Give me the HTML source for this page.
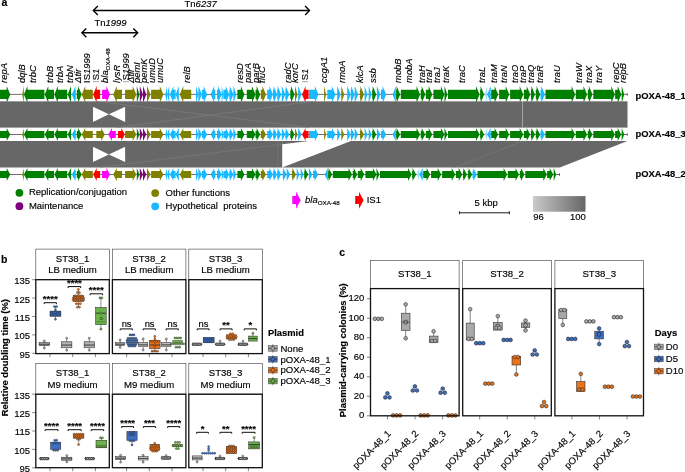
<!DOCTYPE html><html><head><meta charset="utf-8"><style>html,body{margin:0;padding:0;background:#fff;}svg{display:block;will-change:transform;}text{font-family:"Liberation Sans",sans-serif;stroke:#000;stroke-width:0.15px;}</style></head><body>
<svg width="685" height="472" viewBox="0 0 685 472">
<rect width="685" height="472" fill="#fff"/>
<text x="1.5" y="6" font-size="10.5" font-weight="bold">a</text>
<line x1="93.4" y1="10.5" x2="309.5" y2="10.5" stroke="#000" stroke-width="1.4"/>
<polyline points="97.8,6.1 93.4,10.5 97.8,14.9" fill="none" stroke="#000" stroke-width="1.4" stroke-linejoin="miter"/>
<polyline points="305.1,6.1 309.5,10.5 305.1,14.9" fill="none" stroke="#000" stroke-width="1.4" stroke-linejoin="miter"/>
<line x1="81.9" y1="32.8" x2="137.7" y2="32.8" stroke="#000" stroke-width="1.4"/>
<polyline points="86.3,28.4 81.9,32.8 86.3,37.2" fill="none" stroke="#000" stroke-width="1.4" stroke-linejoin="miter"/>
<polyline points="133.3,28.4 137.7,32.8 133.3,37.2" fill="none" stroke="#000" stroke-width="1.4" stroke-linejoin="miter"/>
<text x="184.5" y="7.4" font-size="9.5">Tn<tspan font-style="italic">6237</tspan></text>
<text x="94.4" y="26.2" font-size="9.5">Tn<tspan font-style="italic">1999</tspan></text>
<text transform="translate(6.8,82.9) rotate(-90)" font-size="9.4" font-style="italic">repA</text>
<text transform="translate(25.2,82.9) rotate(-90)" font-size="9.4" font-style="italic">dqlB</text>
<text transform="translate(36.1,82.9) rotate(-90)" font-size="9.4" font-style="italic">trbC</text>
<text transform="translate(53.2,82.9) rotate(-90)" font-size="9.4" font-style="italic">trbB</text>
<text transform="translate(62.8,82.9) rotate(-90)" font-size="9.4" font-style="italic">trbA</text>
<text transform="translate(72.9,82.9) rotate(-90)" font-size="9.4" font-style="italic">trbN</text>
<text transform="translate(80.8,82.9) rotate(-90)" font-size="9.4" font-style="italic">Δtir</text>
<text transform="translate(89.6,82.9) rotate(-90)" font-size="9.4">IS<tspan font-style="italic">1999</tspan></text>
<text transform="translate(99.3,82.9) rotate(-90)" font-size="9.4"><tspan fill="#9a9a9a" stroke="none">I</tspan>S<tspan font-style="italic">1</tspan></text>
<text transform="translate(107.8,82.9) rotate(-90)" font-size="9.4" font-style="italic">bla<tspan font-size="6.2" font-style="normal" dy="2.2">OXA-48</tspan></text>
<text transform="translate(119.5,82.9) rotate(-90)" font-size="9.4" font-style="italic">lysR</text>
<text transform="translate(128.5,82.9) rotate(-90)" font-size="9.4"><tspan fill="#9a9a9a" stroke="none">I</tspan>S<tspan font-style="italic">1999</tspan></text>
<text transform="translate(133.7,82.9) rotate(-90)" font-size="9.4" font-style="italic">Δtir</text>
<text transform="translate(140.1,82.9) rotate(-90)" font-size="9.4" font-style="italic">pemI</text>
<text transform="translate(146.9,82.9) rotate(-90)" font-size="9.4" font-style="italic">pemK</text>
<text transform="translate(155.4,82.9) rotate(-90)" font-size="9.4" font-style="italic">umuD</text>
<text transform="translate(162.8,82.9) rotate(-90)" font-size="9.4" font-style="italic">umuC</text>
<text transform="translate(190.2,82.9) rotate(-90)" font-size="9.4" font-style="italic">relB</text>
<text transform="translate(243.4,82.9) rotate(-90)" font-size="9.4" font-style="italic">resD</text>
<text transform="translate(251.1,82.9) rotate(-90)" font-size="9.4" font-style="italic">parA</text>
<text transform="translate(259.2,82.9) rotate(-90)" font-size="9.4" font-style="italic">parB</text>
<text transform="translate(265.4,82.9) rotate(-90)" font-size="9.4" font-style="italic">fluC</text>
<text transform="translate(291.2,82.9) rotate(-90)" font-size="9.4" font-style="italic">radC</text>
<text transform="translate(297.9,82.9) rotate(-90)" font-size="9.4" font-style="italic">korC</text>
<text transform="translate(307.6,82.9) rotate(-90)" font-size="9.4"><tspan fill="#9a9a9a" stroke="none">I</tspan>S<tspan font-style="italic">1</tspan></text>
<text transform="translate(327,82.9) rotate(-90)" font-size="9.4" font-style="italic">ccgA1</text>
<text transform="translate(344.9,82.9) rotate(-90)" font-size="9.4" font-style="italic">rmoA</text>
<text transform="translate(363.3,82.9) rotate(-90)" font-size="9.4" font-style="italic">klcA</text>
<text transform="translate(375.5,82.9) rotate(-90)" font-size="9.4" font-style="italic">ssb</text>
<text transform="translate(401.1,82.9) rotate(-90)" font-size="9.4" font-style="italic">mobB</text>
<text transform="translate(411.8,82.9) rotate(-90)" font-size="9.4" font-style="italic">mobA</text>
<text transform="translate(424.8,82.9) rotate(-90)" font-size="9.4" font-style="italic">traH</text>
<text transform="translate(432,82.9) rotate(-90)" font-size="9.4" font-style="italic">traI</text>
<text transform="translate(439.6,82.9) rotate(-90)" font-size="9.4" font-style="italic">traJ</text>
<text transform="translate(448.8,82.9) rotate(-90)" font-size="9.4" font-style="italic">traK</text>
<text transform="translate(464.7,82.9) rotate(-90)" font-size="9.4" font-style="italic">traC</text>
<text transform="translate(485.3,82.9) rotate(-90)" font-size="9.4" font-style="italic">traL</text>
<text transform="translate(497.1,82.9) rotate(-90)" font-size="9.4" font-style="italic">traM</text>
<text transform="translate(506.6,82.9) rotate(-90)" font-size="9.4" font-style="italic">traN</text>
<text transform="translate(518,82.9) rotate(-90)" font-size="9.4" font-style="italic">traO</text>
<text transform="translate(526,82.9) rotate(-90)" font-size="9.4" font-style="italic">traP</text>
<text transform="translate(534.2,82.9) rotate(-90)" font-size="9.4" font-style="italic">traQ</text>
<text transform="translate(543.1,82.9) rotate(-90)" font-size="9.4" font-style="italic">traR</text>
<text transform="translate(559.9,82.9) rotate(-90)" font-size="9.4" font-style="italic">traU</text>
<text transform="translate(581.8,82.9) rotate(-90)" font-size="9.4" font-style="italic">traW</text>
<text transform="translate(592,82.9) rotate(-90)" font-size="9.4" font-style="italic">traX</text>
<text transform="translate(601.5,82.9) rotate(-90)" font-size="9.4" font-style="italic">traY</text>
<text transform="translate(619,82.9) rotate(-90)" font-size="9.4" font-style="italic">repC</text>
<text transform="translate(626.4,82.9) rotate(-90)" font-size="9.4" font-style="italic">repB</text>
<line x1="0" y1="94.4" x2="627.5" y2="94.4" stroke="#333" stroke-width="0.7"/>
<line x1="627.2" y1="92.9" x2="627.2" y2="95.9" stroke="#333" stroke-width="0.6"/>
<polygon points="-5,89.8 6.7,89.8 6.7,85.9 10.3,94.4 6.7,102.9 6.7,99 -5,99" fill="#008000"/>
<polygon points="23.9,85.9 22.2,94.4 23.9,102.9" fill="#808000"/>
<polygon points="44.4,89.8 27.5,89.8 27.5,85.9 23.9,94.4 27.5,102.9 27.5,99 44.4,99" fill="#008000"/>
<polygon points="54,89.8 48.3,89.8 48.3,85.9 44.7,94.4 48.3,102.9 48.3,99 54,99" fill="#008000"/>
<polygon points="67.2,89.8 57.9,89.8 57.9,85.9 54.3,94.4 57.9,102.9 57.9,99 67.2,99" fill="#008000"/>
<polygon points="71,85.9 67.7,94.4 71,102.9" fill="#008000"/>
<polygon points="75.8,89.8 75.4,89.8 75.4,85.9 71.8,94.4 75.4,102.9 75.4,99 75.8,99" fill="#19b9ff"/>
<polygon points="76.8,89.8 78.1,89.8 78.1,85.9 81.7,94.4 78.1,102.9 78.1,99 76.8,99" fill="#008000"/>
<polygon points="92.8,89.8 85.3,89.8 85.3,85.9 81.7,94.4 85.3,102.9 85.3,99 92.8,99" fill="#808000"/>
<polygon points="100.1,89.8 96.7,89.8 96.7,85.9 93.1,94.4 96.7,102.9 96.7,99 100.1,99" fill="#ff0000"/>
<polygon points="102.1,89.8 106.4,89.8 106.4,85.9 110,94.4 106.4,102.9 106.4,99 102.1,99" fill="#ff00ff"/>
<polygon points="122,89.8 116.8,89.8 116.8,85.9 113.2,94.4 116.8,102.9 116.8,99 122,99" fill="#808000"/>
<polygon points="125.1,89.8 132.7,89.8 132.7,85.9 136.3,94.4 132.7,102.9 132.7,99 125.1,99" fill="#808000"/>
<polygon points="136.8,85.9 139.5,94.4 136.8,102.9" fill="#008000"/>
<polygon points="139.8,85.9 143,94.4 139.8,102.9" fill="#800080"/>
<polygon points="143,85.9 146.3,94.4 143,102.9" fill="#800080"/>
<polygon points="147,85.9 150.5,94.4 147,102.9" fill="#808000"/>
<polygon points="151.1,89.8 159.8,89.8 159.8,85.9 163.4,94.4 159.8,102.9 159.8,99 151.1,99" fill="#808000"/>
<polygon points="167,85.9 165.3,94.4 167,102.9" fill="#19b9ff"/>
<polygon points="169.3,85.9 167,94.4 169.3,102.9" fill="#19b9ff"/>
<polygon points="175.6,89.8 173.4,89.8 173.4,85.9 169.8,94.4 173.4,102.9 173.4,99 175.6,99" fill="#19b9ff"/>
<polygon points="178.8,85.9 175.6,94.4 178.8,102.9" fill="#19b9ff"/>
<polygon points="191.2,89.8 183.3,89.8 183.3,85.9 179.7,94.4 183.3,102.9 183.3,99 191.2,99" fill="#808000"/>
<polygon points="196,85.9 198.4,94.4 196,102.9" fill="#19b9ff"/>
<polygon points="198.4,85.9 201.9,94.4 198.4,102.9" fill="#19b9ff"/>
<polygon points="201.9,89.8 203.6,89.8 203.6,85.9 207.2,94.4 203.6,102.9 203.6,99 201.9,99" fill="#19b9ff"/>
<polygon points="215.3,89.8 214.2,89.8 214.2,85.9 210.6,94.4 214.2,102.9 214.2,99 215.3,99" fill="#19b9ff"/>
<polygon points="217,89.8 218.1,89.8 218.1,85.9 221.7,94.4 218.1,102.9 218.1,99 217,99" fill="#19b9ff"/>
<polygon points="221.7,85.9 223.4,94.4 221.7,102.9" fill="#19b9ff"/>
<polygon points="223.4,89.8 225.7,89.8 225.7,85.9 229.3,94.4 225.7,102.9 225.7,99 223.4,99" fill="#19b9ff"/>
<polygon points="229.3,89.8 229.8,89.8 229.8,85.9 233.4,94.4 229.8,102.9 229.8,99 229.3,99" fill="#19b9ff"/>
<polygon points="233.4,85.9 236.3,94.4 233.4,102.9" fill="#19b9ff"/>
<polygon points="237.4,89.8 240.9,89.8 240.9,85.9 244.5,94.4 240.9,102.9 240.9,99 237.4,99" fill="#008000"/>
<polygon points="246.8,89.8 251.9,89.8 251.9,85.9 255.5,94.4 251.9,102.9 251.9,99 246.8,99" fill="#008000"/>
<polygon points="255.5,89.8 256.6,89.8 256.6,85.9 260.2,94.4 256.6,102.9 256.6,99 255.5,99" fill="#008000"/>
<polygon points="260.8,89.8 262.4,89.8 262.4,85.9 266,94.4 262.4,102.9 262.4,99 260.8,99" fill="#808000"/>
<polygon points="267.2,89.8 269.4,89.8 269.4,85.9 273,94.4 269.4,102.9 269.4,99 267.2,99" fill="#19b9ff"/>
<polygon points="273,89.8 273.6,89.8 273.6,85.9 277.2,94.4 273.6,102.9 273.6,99 273,99" fill="#19b9ff"/>
<polygon points="277.2,89.8 277.6,89.8 277.6,85.9 281.2,94.4 277.6,102.9 277.6,99 277.2,99" fill="#19b9ff"/>
<polygon points="281.8,85.9 285.3,94.4 281.8,102.9" fill="#19b9ff"/>
<polygon points="285.3,89.8 285.7,89.8 285.7,85.9 289.3,94.4 285.7,102.9 285.7,99 285.3,99" fill="#19b9ff"/>
<polygon points="290.3,89.8 291,89.8 291,85.9 294.6,94.4 291,102.9 291,99 290.3,99" fill="#008000"/>
<polygon points="295,85.9 297.5,94.4 295,102.9" fill="#808000"/>
<polygon points="298.1,85.9 301.6,94.4 298.1,102.9" fill="#19b9ff"/>
<polygon points="308.6,89.8 305.6,89.8 305.6,85.9 302,94.4 305.6,102.9 305.6,99 308.6,99" fill="#ff0000"/>
<polygon points="309,89.8 314.9,89.8 314.9,85.9 318.5,94.4 314.9,102.9 314.9,99 309,99" fill="#19b9ff"/>
<polygon points="324.1,85.9 326.1,94.4 324.1,102.9" fill="#808000"/>
<polygon points="327.3,89.8 331.9,89.8 331.9,85.9 335.5,94.4 331.9,102.9 331.9,99 327.3,99" fill="#19b9ff"/>
<polygon points="337.2,85.9 340.7,94.4 337.2,102.9" fill="#19b9ff"/>
<polygon points="341.3,85.9 344.2,94.4 341.3,102.9" fill="#808000"/>
<polygon points="347.2,85.9 350.7,94.4 347.2,102.9" fill="#19b9ff"/>
<polygon points="350.7,89.8 351.1,89.8 351.1,85.9 354.7,94.4 351.1,102.9 351.1,99 350.7,99" fill="#19b9ff"/>
<polygon points="354.7,85.9 358.2,94.4 354.7,102.9" fill="#19b9ff"/>
<polygon points="359.9,89.8 360.4,89.8 360.4,85.9 364,94.4 360.4,102.9 360.4,99 359.9,99" fill="#808000"/>
<polygon points="364.6,85.9 367.5,94.4 364.6,102.9" fill="#19b9ff"/>
<polygon points="368.7,85.9 371.6,94.4 368.7,102.9" fill="#19b9ff"/>
<polygon points="372.2,89.8 372.7,89.8 372.7,85.9 376.3,94.4 372.7,102.9 372.7,99 372.2,99" fill="#008000"/>
<polygon points="376.9,85.9 380.4,94.4 376.9,102.9" fill="#19b9ff"/>
<polygon points="381,89.8 382.6,89.8 382.6,85.9 386.2,94.4 382.6,102.9 382.6,99 381,99" fill="#19b9ff"/>
<polygon points="395.8,85.9 392.6,94.4 395.8,102.9" fill="#19b9ff"/>
<polygon points="396.1,89.8 396.6,89.8 396.6,85.9 400.2,94.4 396.6,102.9 396.6,99 396.1,99" fill="#008000"/>
<polygon points="400.8,89.8 416.5,89.8 416.5,85.9 420.1,94.4 416.5,102.9 416.5,99 400.8,99" fill="#008000"/>
<polygon points="420.7,89.8 421.7,89.8 421.7,85.9 425.3,94.4 421.7,102.9 421.7,99 420.7,99" fill="#008000"/>
<polygon points="425.8,89.8 428.7,89.8 428.7,85.9 432.3,94.4 428.7,102.9 428.7,99 425.8,99" fill="#008000"/>
<polygon points="433.4,89.8 440.9,89.8 440.9,85.9 444.5,94.4 440.9,102.9 440.9,99 433.4,99" fill="#008000"/>
<polygon points="444.5,85.9 447.4,94.4 444.5,102.9" fill="#008000"/>
<polygon points="448,89.8 476,89.8 476,85.9 479.6,94.4 476,102.9 476,99 448,99" fill="#008000"/>
<polygon points="480.1,89.8 480.6,89.8 480.6,85.9 484.2,94.4 480.6,102.9 480.6,99 480.1,99" fill="#008000"/>
<polygon points="487.2,85.9 484.8,94.4 487.2,102.9" fill="#9fdcf5"/>
<polygon points="490.7,85.9 487.2,94.4 490.7,102.9" fill="#19b9ff"/>
<polygon points="491.2,89.8 494.6,89.8 494.6,85.9 498.2,94.4 494.6,102.9 494.6,99 491.2,99" fill="#008000"/>
<polygon points="499.1,89.8 505.7,89.8 505.7,85.9 509.3,94.4 505.7,102.9 505.7,99 499.1,99" fill="#008000"/>
<polygon points="510.1,89.8 519.7,89.8 519.7,85.9 523.3,94.4 519.7,102.9 519.7,99 510.1,99" fill="#008000"/>
<polygon points="523.9,89.8 526.7,89.8 526.7,85.9 530.3,94.4 526.7,102.9 526.7,99 523.9,99" fill="#008000"/>
<polygon points="530.9,89.8 531.4,89.8 531.4,85.9 535,94.4 531.4,102.9 531.4,99 530.9,99" fill="#008000"/>
<polygon points="535.8,89.8 536.6,89.8 536.6,85.9 540.2,94.4 536.6,102.9 536.6,99 535.8,99" fill="#008000"/>
<polygon points="540.5,89.8 541.3,89.8 541.3,85.9 544.9,94.4 541.3,102.9 541.3,99 540.5,99" fill="#19b9ff"/>
<polygon points="545.5,89.8 571.6,89.8 571.6,85.9 575.2,94.4 571.6,102.9 571.6,99 545.5,99" fill="#008000"/>
<polygon points="575.8,89.8 583.5,89.8 583.5,85.9 587.1,94.4 583.5,102.9 583.5,99 575.8,99" fill="#008000"/>
<polygon points="587.8,89.8 588.9,89.8 588.9,85.9 592.5,94.4 588.9,102.9 588.9,99 587.8,99" fill="#008000"/>
<polygon points="593.3,89.8 611.3,89.8 611.3,85.9 614.9,94.4 611.3,102.9 611.3,99 593.3,99" fill="#008000"/>
<polygon points="615.1,89.8 617.7,89.8 617.7,85.9 621.3,94.4 617.7,102.9 617.7,99 615.1,99" fill="#008000"/>
<polygon points="621.7,85.9 624.2,94.4 621.7,102.9" fill="#008000"/>
<line x1="0" y1="134.5" x2="627.5" y2="134.5" stroke="#333" stroke-width="0.7"/>
<line x1="627.2" y1="133" x2="627.2" y2="136" stroke="#333" stroke-width="0.6"/>
<polygon points="-5,130.9 6.7,130.9 6.7,127.9 10.3,134.5 6.7,141.1 6.7,138.1 -5,138.1" fill="#008000"/>
<polygon points="23.9,127.9 22.2,134.5 23.9,141.1" fill="#808000"/>
<polygon points="44.4,130.9 27.5,130.9 27.5,127.9 23.9,134.5 27.5,141.1 27.5,138.1 44.4,138.1" fill="#008000"/>
<polygon points="54,130.9 48.3,130.9 48.3,127.9 44.7,134.5 48.3,141.1 48.3,138.1 54,138.1" fill="#008000"/>
<polygon points="67.2,130.9 57.9,130.9 57.9,127.9 54.3,134.5 57.9,141.1 57.9,138.1 67.2,138.1" fill="#008000"/>
<polygon points="71,127.9 67.7,134.5 71,141.1" fill="#008000"/>
<polygon points="75.8,130.9 75.4,130.9 75.4,127.9 71.8,134.5 75.4,141.1 75.4,138.1 75.8,138.1" fill="#19b9ff"/>
<polygon points="76.8,130.9 78.1,130.9 78.1,127.9 81.7,134.5 78.1,141.1 78.1,138.1 76.8,138.1" fill="#008000"/>
<polygon points="125.1,130.9 132.7,130.9 132.7,127.9 136.3,134.5 132.7,141.1 132.7,138.1 125.1,138.1" fill="#808000"/>
<polygon points="136.8,127.9 139.5,134.5 136.8,141.1" fill="#008000"/>
<polygon points="139.8,127.9 143,134.5 139.8,141.1" fill="#800080"/>
<polygon points="143,127.9 146.3,134.5 143,141.1" fill="#800080"/>
<polygon points="147,127.9 150.5,134.5 147,141.1" fill="#808000"/>
<polygon points="151.1,130.9 159.8,130.9 159.8,127.9 163.4,134.5 159.8,141.1 159.8,138.1 151.1,138.1" fill="#808000"/>
<polygon points="167,127.9 165.3,134.5 167,141.1" fill="#19b9ff"/>
<polygon points="169.3,127.9 167,134.5 169.3,141.1" fill="#19b9ff"/>
<polygon points="175.6,130.9 173.4,130.9 173.4,127.9 169.8,134.5 173.4,141.1 173.4,138.1 175.6,138.1" fill="#19b9ff"/>
<polygon points="178.8,127.9 175.6,134.5 178.8,141.1" fill="#19b9ff"/>
<polygon points="191.2,130.9 183.3,130.9 183.3,127.9 179.7,134.5 183.3,141.1 183.3,138.1 191.2,138.1" fill="#808000"/>
<polygon points="196,127.9 198.4,134.5 196,141.1" fill="#19b9ff"/>
<polygon points="198.4,127.9 201.9,134.5 198.4,141.1" fill="#19b9ff"/>
<polygon points="201.9,130.9 203.6,130.9 203.6,127.9 207.2,134.5 203.6,141.1 203.6,138.1 201.9,138.1" fill="#19b9ff"/>
<polygon points="215.3,130.9 214.2,130.9 214.2,127.9 210.6,134.5 214.2,141.1 214.2,138.1 215.3,138.1" fill="#19b9ff"/>
<polygon points="217,130.9 218.1,130.9 218.1,127.9 221.7,134.5 218.1,141.1 218.1,138.1 217,138.1" fill="#19b9ff"/>
<polygon points="221.7,127.9 223.4,134.5 221.7,141.1" fill="#19b9ff"/>
<polygon points="223.4,130.9 225.7,130.9 225.7,127.9 229.3,134.5 225.7,141.1 225.7,138.1 223.4,138.1" fill="#19b9ff"/>
<polygon points="229.3,130.9 229.8,130.9 229.8,127.9 233.4,134.5 229.8,141.1 229.8,138.1 229.3,138.1" fill="#19b9ff"/>
<polygon points="233.4,127.9 236.3,134.5 233.4,141.1" fill="#19b9ff"/>
<polygon points="237.4,130.9 240.9,130.9 240.9,127.9 244.5,134.5 240.9,141.1 240.9,138.1 237.4,138.1" fill="#008000"/>
<polygon points="246.8,130.9 251.9,130.9 251.9,127.9 255.5,134.5 251.9,141.1 251.9,138.1 246.8,138.1" fill="#008000"/>
<polygon points="255.5,130.9 256.6,130.9 256.6,127.9 260.2,134.5 256.6,141.1 256.6,138.1 255.5,138.1" fill="#008000"/>
<polygon points="260.8,130.9 262.4,130.9 262.4,127.9 266,134.5 262.4,141.1 262.4,138.1 260.8,138.1" fill="#808000"/>
<polygon points="267.2,130.9 269.4,130.9 269.4,127.9 273,134.5 269.4,141.1 269.4,138.1 267.2,138.1" fill="#19b9ff"/>
<polygon points="273,130.9 273.6,130.9 273.6,127.9 277.2,134.5 273.6,141.1 273.6,138.1 273,138.1" fill="#19b9ff"/>
<polygon points="277.2,130.9 277.6,130.9 277.6,127.9 281.2,134.5 277.6,141.1 277.6,138.1 277.2,138.1" fill="#19b9ff"/>
<polygon points="281.8,127.9 285.3,134.5 281.8,141.1" fill="#19b9ff"/>
<polygon points="285.3,130.9 285.7,130.9 285.7,127.9 289.3,134.5 285.7,141.1 285.7,138.1 285.3,138.1" fill="#19b9ff"/>
<polygon points="290.3,130.9 291,130.9 291,127.9 294.6,134.5 291,141.1 291,138.1 290.3,138.1" fill="#008000"/>
<polygon points="295,127.9 297.5,134.5 295,141.1" fill="#808000"/>
<polygon points="298.1,127.9 301.6,134.5 298.1,141.1" fill="#19b9ff"/>
<polygon points="308.6,130.9 305.6,130.9 305.6,127.9 302,134.5 305.6,141.1 305.6,138.1 308.6,138.1" fill="#ff0000"/>
<polygon points="309,130.9 314.9,130.9 314.9,127.9 318.5,134.5 314.9,141.1 314.9,138.1 309,138.1" fill="#19b9ff"/>
<polygon points="324.1,127.9 326.1,134.5 324.1,141.1" fill="#808000"/>
<polygon points="327.3,130.9 331.9,130.9 331.9,127.9 335.5,134.5 331.9,141.1 331.9,138.1 327.3,138.1" fill="#19b9ff"/>
<polygon points="337.2,127.9 340.7,134.5 337.2,141.1" fill="#19b9ff"/>
<polygon points="341.3,127.9 344.2,134.5 341.3,141.1" fill="#808000"/>
<polygon points="347.2,127.9 350.7,134.5 347.2,141.1" fill="#19b9ff"/>
<polygon points="350.7,130.9 351.1,130.9 351.1,127.9 354.7,134.5 351.1,141.1 351.1,138.1 350.7,138.1" fill="#19b9ff"/>
<polygon points="354.7,127.9 358.2,134.5 354.7,141.1" fill="#19b9ff"/>
<polygon points="359.9,130.9 360.4,130.9 360.4,127.9 364,134.5 360.4,141.1 360.4,138.1 359.9,138.1" fill="#808000"/>
<polygon points="364.6,127.9 367.5,134.5 364.6,141.1" fill="#19b9ff"/>
<polygon points="368.7,127.9 371.6,134.5 368.7,141.1" fill="#19b9ff"/>
<polygon points="372.2,130.9 372.7,130.9 372.7,127.9 376.3,134.5 372.7,141.1 372.7,138.1 372.2,138.1" fill="#008000"/>
<polygon points="376.9,127.9 380.4,134.5 376.9,141.1" fill="#19b9ff"/>
<polygon points="381,130.9 382.6,130.9 382.6,127.9 386.2,134.5 382.6,141.1 382.6,138.1 381,138.1" fill="#19b9ff"/>
<polygon points="395.8,127.9 392.6,134.5 395.8,141.1" fill="#19b9ff"/>
<polygon points="396.1,130.9 396.6,130.9 396.6,127.9 400.2,134.5 396.6,141.1 396.6,138.1 396.1,138.1" fill="#008000"/>
<polygon points="400.8,130.9 416.5,130.9 416.5,127.9 420.1,134.5 416.5,141.1 416.5,138.1 400.8,138.1" fill="#008000"/>
<polygon points="420.7,130.9 421.7,130.9 421.7,127.9 425.3,134.5 421.7,141.1 421.7,138.1 420.7,138.1" fill="#008000"/>
<polygon points="425.8,130.9 428.7,130.9 428.7,127.9 432.3,134.5 428.7,141.1 428.7,138.1 425.8,138.1" fill="#008000"/>
<polygon points="433.4,130.9 440.9,130.9 440.9,127.9 444.5,134.5 440.9,141.1 440.9,138.1 433.4,138.1" fill="#008000"/>
<polygon points="444.5,127.9 447.4,134.5 444.5,141.1" fill="#008000"/>
<polygon points="448,130.9 476,130.9 476,127.9 479.6,134.5 476,141.1 476,138.1 448,138.1" fill="#008000"/>
<polygon points="480.1,130.9 480.6,130.9 480.6,127.9 484.2,134.5 480.6,141.1 480.6,138.1 480.1,138.1" fill="#008000"/>
<polygon points="487.2,127.9 484.8,134.5 487.2,141.1" fill="#9fdcf5"/>
<polygon points="490.7,127.9 487.2,134.5 490.7,141.1" fill="#19b9ff"/>
<polygon points="491.2,130.9 494.6,130.9 494.6,127.9 498.2,134.5 494.6,141.1 494.6,138.1 491.2,138.1" fill="#008000"/>
<polygon points="499.1,130.9 505.7,130.9 505.7,127.9 509.3,134.5 505.7,141.1 505.7,138.1 499.1,138.1" fill="#008000"/>
<polygon points="510.1,130.9 519.7,130.9 519.7,127.9 523.3,134.5 519.7,141.1 519.7,138.1 510.1,138.1" fill="#008000"/>
<polygon points="523.9,130.9 526.7,130.9 526.7,127.9 530.3,134.5 526.7,141.1 526.7,138.1 523.9,138.1" fill="#008000"/>
<polygon points="530.9,130.9 531.4,130.9 531.4,127.9 535,134.5 531.4,141.1 531.4,138.1 530.9,138.1" fill="#008000"/>
<polygon points="535.8,130.9 536.6,130.9 536.6,127.9 540.2,134.5 536.6,141.1 536.6,138.1 535.8,138.1" fill="#008000"/>
<polygon points="540.5,130.9 541.3,130.9 541.3,127.9 544.9,134.5 541.3,141.1 541.3,138.1 540.5,138.1" fill="#19b9ff"/>
<polygon points="545.5,130.9 571.6,130.9 571.6,127.9 575.2,134.5 571.6,141.1 571.6,138.1 545.5,138.1" fill="#008000"/>
<polygon points="575.8,130.9 583.5,130.9 583.5,127.9 587.1,134.5 583.5,141.1 583.5,138.1 575.8,138.1" fill="#008000"/>
<polygon points="587.8,130.9 588.9,130.9 588.9,127.9 592.5,134.5 588.9,141.1 588.9,138.1 587.8,138.1" fill="#008000"/>
<polygon points="593.3,130.9 611.3,130.9 611.3,127.9 614.9,134.5 611.3,141.1 611.3,138.1 593.3,138.1" fill="#008000"/>
<polygon points="615.1,130.9 617.7,130.9 617.7,127.9 621.3,134.5 617.7,141.1 617.7,138.1 615.1,138.1" fill="#008000"/>
<polygon points="621.7,127.9 624.2,134.5 621.7,141.1" fill="#008000"/>
<polygon points="92.8,130.9 85.3,130.9 85.3,127.9 81.7,134.5 85.3,141.1 85.3,138.1 92.8,138.1" fill="#808000"/>
<polygon points="96.3,130.9 101.2,130.9 101.2,127.9 104.8,134.5 101.2,141.1 101.2,138.1 96.3,138.1" fill="#808000"/>
<polygon points="115.8,130.9 111.9,130.9 111.9,127.9 108.3,134.5 111.9,141.1 111.9,138.1 115.8,138.1" fill="#ff00ff"/>
<polygon points="117.9,130.9 121.3,130.9 121.3,127.9 124.9,134.5 121.3,141.1 121.3,138.1 117.9,138.1" fill="#ff0000"/>
<line x1="0" y1="174.5" x2="559.8" y2="174.5" stroke="#333" stroke-width="0.7"/>
<line x1="559.5" y1="173" x2="559.5" y2="176" stroke="#333" stroke-width="0.6"/>
<polygon points="-5,170.9 6.7,170.9 6.7,167.9 10.3,174.5 6.7,181.1 6.7,178.1 -5,178.1" fill="#008000"/>
<polygon points="23.9,167.9 22.2,174.5 23.9,181.1" fill="#808000"/>
<polygon points="44.4,170.9 27.5,170.9 27.5,167.9 23.9,174.5 27.5,181.1 27.5,178.1 44.4,178.1" fill="#008000"/>
<polygon points="54,170.9 48.3,170.9 48.3,167.9 44.7,174.5 48.3,181.1 48.3,178.1 54,178.1" fill="#008000"/>
<polygon points="67.2,170.9 57.9,170.9 57.9,167.9 54.3,174.5 57.9,181.1 57.9,178.1 67.2,178.1" fill="#008000"/>
<polygon points="71,167.9 67.7,174.5 71,181.1" fill="#008000"/>
<polygon points="75.8,170.9 75.4,170.9 75.4,167.9 71.8,174.5 75.4,181.1 75.4,178.1 75.8,178.1" fill="#19b9ff"/>
<polygon points="76.8,170.9 78.1,170.9 78.1,167.9 81.7,174.5 78.1,181.1 78.1,178.1 76.8,178.1" fill="#008000"/>
<polygon points="92.8,170.9 85.3,170.9 85.3,167.9 81.7,174.5 85.3,181.1 85.3,178.1 92.8,178.1" fill="#808000"/>
<polygon points="100.1,170.9 96.7,170.9 96.7,167.9 93.1,174.5 96.7,181.1 96.7,178.1 100.1,178.1" fill="#ff0000"/>
<polygon points="102.1,170.9 106.4,170.9 106.4,167.9 110,174.5 106.4,181.1 106.4,178.1 102.1,178.1" fill="#ff00ff"/>
<polygon points="122,170.9 116.8,170.9 116.8,167.9 113.2,174.5 116.8,181.1 116.8,178.1 122,178.1" fill="#808000"/>
<polygon points="125.1,170.9 132.7,170.9 132.7,167.9 136.3,174.5 132.7,181.1 132.7,178.1 125.1,178.1" fill="#808000"/>
<polygon points="136.8,167.9 139.5,174.5 136.8,181.1" fill="#008000"/>
<polygon points="139.8,167.9 143,174.5 139.8,181.1" fill="#800080"/>
<polygon points="143,167.9 146.3,174.5 143,181.1" fill="#800080"/>
<polygon points="147,167.9 150.5,174.5 147,181.1" fill="#808000"/>
<polygon points="151.1,170.9 159.8,170.9 159.8,167.9 163.4,174.5 159.8,181.1 159.8,178.1 151.1,178.1" fill="#808000"/>
<polygon points="167,167.9 165.3,174.5 167,181.1" fill="#19b9ff"/>
<polygon points="169.3,167.9 167,174.5 169.3,181.1" fill="#19b9ff"/>
<polygon points="175.6,170.9 173.4,170.9 173.4,167.9 169.8,174.5 173.4,181.1 173.4,178.1 175.6,178.1" fill="#19b9ff"/>
<polygon points="178.8,167.9 175.6,174.5 178.8,181.1" fill="#19b9ff"/>
<polygon points="191.2,170.9 183.3,170.9 183.3,167.9 179.7,174.5 183.3,181.1 183.3,178.1 191.2,178.1" fill="#808000"/>
<polygon points="196,167.9 198.4,174.5 196,181.1" fill="#19b9ff"/>
<polygon points="198.4,167.9 201.9,174.5 198.4,181.1" fill="#19b9ff"/>
<polygon points="201.9,170.9 203.6,170.9 203.6,167.9 207.2,174.5 203.6,181.1 203.6,178.1 201.9,178.1" fill="#19b9ff"/>
<polygon points="215.3,170.9 214.2,170.9 214.2,167.9 210.6,174.5 214.2,181.1 214.2,178.1 215.3,178.1" fill="#19b9ff"/>
<polygon points="217,170.9 218.1,170.9 218.1,167.9 221.7,174.5 218.1,181.1 218.1,178.1 217,178.1" fill="#19b9ff"/>
<polygon points="221.7,167.9 223.4,174.5 221.7,181.1" fill="#19b9ff"/>
<polygon points="223.4,170.9 225.7,170.9 225.7,167.9 229.3,174.5 225.7,181.1 225.7,178.1 223.4,178.1" fill="#19b9ff"/>
<polygon points="229.3,170.9 229.8,170.9 229.8,167.9 233.4,174.5 229.8,181.1 229.8,178.1 229.3,178.1" fill="#19b9ff"/>
<polygon points="233.4,167.9 236.3,174.5 233.4,181.1" fill="#19b9ff"/>
<polygon points="237.4,170.9 240.9,170.9 240.9,167.9 244.5,174.5 240.9,181.1 240.9,178.1 237.4,178.1" fill="#008000"/>
<polygon points="246.8,170.9 251.9,170.9 251.9,167.9 255.5,174.5 251.9,181.1 251.9,178.1 246.8,178.1" fill="#008000"/>
<polygon points="255.5,170.9 256.6,170.9 256.6,167.9 260.2,174.5 256.6,181.1 256.6,178.1 255.5,178.1" fill="#008000"/>
<polygon points="260.8,170.9 262.4,170.9 262.4,167.9 266,174.5 262.4,181.1 262.4,178.1 260.8,178.1" fill="#808000"/>
<polygon points="267.2,170.9 269.4,170.9 269.4,167.9 273,174.5 269.4,181.1 269.4,178.1 267.2,178.1" fill="#19b9ff"/>
<polygon points="273,170.9 273.6,170.9 273.6,167.9 277.2,174.5 273.6,181.1 273.6,178.1 273,178.1" fill="#19b9ff"/>
<polygon points="277.2,170.9 277.6,170.9 277.6,167.9 281.2,174.5 277.6,181.1 277.6,178.1 277.2,178.1" fill="#19b9ff"/>
<polygon points="282.7,170.9 283.1,170.9 283.1,167.9 286.7,174.5 283.1,181.1 283.1,178.1 282.7,178.1" fill="#19b9ff"/>
<polygon points="286.7,167.9 290.2,174.5 286.7,181.1" fill="#19b9ff"/>
<polygon points="291.9,170.9 292.4,170.9 292.4,167.9 296,174.5 292.4,181.1 292.4,178.1 291.9,178.1" fill="#808000"/>
<polygon points="296.6,167.9 299.5,174.5 296.6,181.1" fill="#19b9ff"/>
<polygon points="300.7,167.9 303.6,174.5 300.7,181.1" fill="#19b9ff"/>
<polygon points="304.2,170.9 304.7,170.9 304.7,167.9 308.3,174.5 304.7,181.1 304.7,178.1 304.2,178.1" fill="#008000"/>
<polygon points="308.9,167.9 312.4,174.5 308.9,181.1" fill="#19b9ff"/>
<polygon points="313,170.9 314.6,170.9 314.6,167.9 318.2,174.5 314.6,181.1 314.6,178.1 313,178.1" fill="#19b9ff"/>
<polygon points="327.8,167.9 324.6,174.5 327.8,181.1" fill="#19b9ff"/>
<polygon points="328.1,170.9 328.6,170.9 328.6,167.9 332.2,174.5 328.6,181.1 328.6,178.1 328.1,178.1" fill="#008000"/>
<polygon points="332.8,170.9 348.5,170.9 348.5,167.9 352.1,174.5 348.5,181.1 348.5,178.1 332.8,178.1" fill="#008000"/>
<polygon points="352.7,170.9 353.7,170.9 353.7,167.9 357.3,174.5 353.7,181.1 353.7,178.1 352.7,178.1" fill="#008000"/>
<polygon points="357.8,170.9 360.7,170.9 360.7,167.9 364.3,174.5 360.7,181.1 360.7,178.1 357.8,178.1" fill="#008000"/>
<polygon points="365.4,170.9 372.9,170.9 372.9,167.9 376.5,174.5 372.9,181.1 372.9,178.1 365.4,178.1" fill="#008000"/>
<polygon points="376.5,167.9 379.4,174.5 376.5,181.1" fill="#008000"/>
<polygon points="380,170.9 408,170.9 408,167.9 411.6,174.5 408,181.1 408,178.1 380,178.1" fill="#008000"/>
<polygon points="412.1,170.9 412.6,170.9 412.6,167.9 416.2,174.5 412.6,181.1 412.6,178.1 412.1,178.1" fill="#008000"/>
<polygon points="419.2,167.9 416.8,174.5 419.2,181.1" fill="#9fdcf5"/>
<polygon points="422.7,167.9 419.2,174.5 422.7,181.1" fill="#19b9ff"/>
<polygon points="423.2,170.9 426.6,170.9 426.6,167.9 430.2,174.5 426.6,181.1 426.6,178.1 423.2,178.1" fill="#008000"/>
<polygon points="431.1,170.9 437.7,170.9 437.7,167.9 441.3,174.5 437.7,181.1 437.7,178.1 431.1,178.1" fill="#008000"/>
<polygon points="442.1,170.9 451.7,170.9 451.7,167.9 455.3,174.5 451.7,181.1 451.7,178.1 442.1,178.1" fill="#008000"/>
<polygon points="455.9,170.9 458.7,170.9 458.7,167.9 462.3,174.5 458.7,181.1 458.7,178.1 455.9,178.1" fill="#008000"/>
<polygon points="462.9,170.9 463.4,170.9 463.4,167.9 467,174.5 463.4,181.1 463.4,178.1 462.9,178.1" fill="#008000"/>
<polygon points="467.8,170.9 468.6,170.9 468.6,167.9 472.2,174.5 468.6,181.1 468.6,178.1 467.8,178.1" fill="#008000"/>
<polygon points="472.5,170.9 473.3,170.9 473.3,167.9 476.9,174.5 473.3,181.1 473.3,178.1 472.5,178.1" fill="#19b9ff"/>
<polygon points="477.5,170.9 503.6,170.9 503.6,167.9 507.2,174.5 503.6,181.1 503.6,178.1 477.5,178.1" fill="#008000"/>
<polygon points="507.8,170.9 515.5,170.9 515.5,167.9 519.1,174.5 515.5,181.1 515.5,178.1 507.8,178.1" fill="#008000"/>
<polygon points="519.8,170.9 520.9,170.9 520.9,167.9 524.5,174.5 520.9,181.1 520.9,178.1 519.8,178.1" fill="#008000"/>
<polygon points="525.3,170.9 543.3,170.9 543.3,167.9 546.9,174.5 543.3,181.1 543.3,178.1 525.3,178.1" fill="#008000"/>
<polygon points="547.1,170.9 549.7,170.9 549.7,167.9 553.3,174.5 549.7,181.1 549.7,178.1 547.1,178.1" fill="#008000"/>
<polygon points="553.7,167.9 556.2,174.5 553.7,181.1" fill="#008000"/>
<rect x="0" y="101.35" width="627.5" height="26.25" fill="#676767"/>
<line x1="97" y1="101.35" x2="309" y2="127.6" stroke="#828282" stroke-width="0.6"/>
<line x1="117" y1="127.6" x2="313" y2="101.35" stroke="#828282" stroke-width="0.6"/>
<polygon points="93,106.8 93,121.9 108.9,114.35" fill="#fff"/>
<polygon points="125.1,106.8 125.1,121.9 108.9,114.35" fill="#fff"/>
<line x1="522.5" y1="101.35" x2="522.5" y2="127.6" stroke="#b4b4b4" stroke-width="0.8"/>
<rect x="0" y="141" width="282.2" height="26.5" fill="#676767"/>
<polygon points="351,141 627.5,141 559.8,167.5 282.2,167.5" fill="#676767"/>
<polygon points="282.2,141 309,141 282.2,144.2" fill="#676767"/>
<line x1="277.8" y1="141" x2="277.8" y2="167.5" stroke="#7d7d7d" stroke-width="0.6"/>
<polygon points="93,146.8 93,162.1 108.9,154.45" fill="#fff"/>
<polygon points="125.1,146.8 125.1,162.1 108.9,154.45" fill="#fff"/>
<line x1="100" y1="167.3" x2="282.2" y2="144.3" stroke="#7f7f7f" stroke-width="0.6"/>
<line x1="454.7" y1="167.5" x2="522.7" y2="141" stroke="#7d7d7d" stroke-width="0.6"/>
<text x="635.6" y="98.9" font-size="9.4" font-weight="bold">pOXA-48_1</text>
<text x="635.6" y="137.4" font-size="9.4" font-weight="bold">pOXA-48_3</text>
<text x="635.6" y="176.8" font-size="9.4" font-weight="bold">pOXA-48_2</text>
<circle cx="19.4" cy="192.8" r="3.9" fill="#008000"/>
<text x="28.9" y="195.4" font-size="9.5">Replication/conjugation</text>
<circle cx="19.4" cy="206.2" r="3.9" fill="#800080"/>
<text x="28.9" y="208.8" font-size="9.5">Maintenance</text>
<circle cx="155.2" cy="193.1" r="3.9" fill="#808000"/>
<text x="165.6" y="195.7" font-size="9.5">Other functions</text>
<circle cx="155.2" cy="206.3" r="3.9" fill="#1cb8ff"/>
<text x="165.6" y="208.9" font-size="9.5">Hypothetical  proteins</text>
<polygon points="292.3,195.9 296.1,195.9 296.1,191.7 300.7,200.2 296.1,208.7 296.1,203.9 292.3,203.9" fill="#ff00ff"/>
<polygon points="355.2,195.9 359,195.9 359,191.7 363.6,200.2 359,208.7 359,203.9 355.2,203.9" fill="#ff0000"/>
<text x="305" y="202.9" font-size="9.5" font-style="italic">bla<tspan font-size="6.2" font-style="normal" dy="1.8">OXA-48</tspan></text>
<text x="366.7" y="202.9" font-size="9.5">IS1</text>
<line x1="459.2" y1="212.8" x2="509.6" y2="212.8" stroke="#000" stroke-width="0.9"/>
<line x1="459.4" y1="211.2" x2="459.4" y2="214.4" stroke="#000" stroke-width="0.8"/>
<line x1="509.4" y1="211.2" x2="509.4" y2="214.4" stroke="#000" stroke-width="0.8"/>
<text x="486.1" y="205.8" font-size="9.5" text-anchor="middle">5 kbp</text>
<defs><linearGradient id="gg" x1="0" x2="1" y1="0" y2="0"><stop offset="0" stop-color="#cacaca"/><stop offset="1" stop-color="#666"/></linearGradient></defs>
<rect x="533" y="196.1" width="52.5" height="15.6" fill="url(#gg)"/>
<text x="533.3" y="219.8" font-size="9.5">96</text>
<text x="585.9" y="219.8" font-size="9.5" text-anchor="end">100</text>
<text x="1" y="262.8" font-size="10.5" font-weight="bold">b</text>
<rect x="35.8" y="249.1" width="73.5" height="30.6" fill="#fff" stroke="#3a3a3a" stroke-width="0.6"/>
<text x="72.55" y="261.9" font-size="9.6" text-anchor="middle">ST38_1</text>
<text x="72.55" y="273.3" font-size="9.6" text-anchor="middle">LB medium</text>
<line x1="50" y1="353.6" x2="50" y2="357.1" stroke="#333" stroke-width="0.6"/>
<line x1="72.7" y1="353.6" x2="72.7" y2="357.1" stroke="#333" stroke-width="0.6"/>
<line x1="95.4" y1="353.6" x2="95.4" y2="357.1" stroke="#333" stroke-width="0.6"/>
<rect x="112.4" y="249.1" width="73.5" height="30.6" fill="#fff" stroke="#3a3a3a" stroke-width="0.6"/>
<text x="149.15" y="261.9" font-size="9.6" text-anchor="middle">ST38_2</text>
<text x="149.15" y="273.3" font-size="9.6" text-anchor="middle">LB medium</text>
<line x1="126.6" y1="353.6" x2="126.6" y2="357.1" stroke="#333" stroke-width="0.6"/>
<line x1="149.3" y1="353.6" x2="149.3" y2="357.1" stroke="#333" stroke-width="0.6"/>
<line x1="172" y1="353.6" x2="172" y2="357.1" stroke="#333" stroke-width="0.6"/>
<rect x="188.8" y="249.1" width="73.5" height="30.6" fill="#fff" stroke="#3a3a3a" stroke-width="0.6"/>
<text x="225.55" y="261.9" font-size="9.6" text-anchor="middle">ST38_3</text>
<text x="225.55" y="273.3" font-size="9.6" text-anchor="middle">LB medium</text>
<line x1="203" y1="353.6" x2="203" y2="357.1" stroke="#333" stroke-width="0.6"/>
<line x1="225.7" y1="353.6" x2="225.7" y2="357.1" stroke="#333" stroke-width="0.6"/>
<line x1="248.4" y1="353.6" x2="248.4" y2="357.1" stroke="#333" stroke-width="0.6"/>
<line x1="32.2" y1="279.7" x2="35.8" y2="279.7" stroke="#333" stroke-width="0.6"/>
<text x="30" y="284.1" font-size="9.5" text-anchor="end">135</text>
<line x1="32.2" y1="298.1" x2="35.8" y2="298.1" stroke="#333" stroke-width="0.6"/>
<text x="30" y="302.5" font-size="9.5" text-anchor="end">125</text>
<line x1="32.2" y1="316.5" x2="35.8" y2="316.5" stroke="#333" stroke-width="0.6"/>
<text x="30" y="320.9" font-size="9.5" text-anchor="end">115</text>
<line x1="32.2" y1="334.9" x2="35.8" y2="334.9" stroke="#333" stroke-width="0.6"/>
<text x="30" y="339.3" font-size="9.5" text-anchor="end">105</text>
<line x1="32.2" y1="353.3" x2="35.8" y2="353.3" stroke="#333" stroke-width="0.6"/>
<text x="30" y="357.7" font-size="9.5" text-anchor="end">95</text>
<rect x="35.8" y="363.3" width="73.5" height="30.9" fill="#fff" stroke="#3a3a3a" stroke-width="0.6"/>
<text x="72.55" y="376.1" font-size="9.6" text-anchor="middle">ST38_1</text>
<text x="72.55" y="387.5" font-size="9.6" text-anchor="middle">M9 medium</text>
<line x1="50" y1="467.7" x2="50" y2="471.2" stroke="#333" stroke-width="0.6"/>
<line x1="72.7" y1="467.7" x2="72.7" y2="471.2" stroke="#333" stroke-width="0.6"/>
<line x1="95.4" y1="467.7" x2="95.4" y2="471.2" stroke="#333" stroke-width="0.6"/>
<rect x="112.4" y="363.3" width="73.5" height="30.9" fill="#fff" stroke="#3a3a3a" stroke-width="0.6"/>
<text x="149.15" y="376.1" font-size="9.6" text-anchor="middle">ST38_2</text>
<text x="149.15" y="387.5" font-size="9.6" text-anchor="middle">M9 medium</text>
<line x1="126.6" y1="467.7" x2="126.6" y2="471.2" stroke="#333" stroke-width="0.6"/>
<line x1="149.3" y1="467.7" x2="149.3" y2="471.2" stroke="#333" stroke-width="0.6"/>
<line x1="172" y1="467.7" x2="172" y2="471.2" stroke="#333" stroke-width="0.6"/>
<rect x="188.8" y="363.3" width="73.5" height="30.9" fill="#fff" stroke="#3a3a3a" stroke-width="0.6"/>
<text x="225.55" y="376.1" font-size="9.6" text-anchor="middle">ST38_3</text>
<text x="225.55" y="387.5" font-size="9.6" text-anchor="middle">M9 medium</text>
<line x1="203" y1="467.7" x2="203" y2="471.2" stroke="#333" stroke-width="0.6"/>
<line x1="225.7" y1="467.7" x2="225.7" y2="471.2" stroke="#333" stroke-width="0.6"/>
<line x1="248.4" y1="467.7" x2="248.4" y2="471.2" stroke="#333" stroke-width="0.6"/>
<line x1="32.2" y1="394.2" x2="35.8" y2="394.2" stroke="#333" stroke-width="0.6"/>
<text x="30" y="398.6" font-size="9.5" text-anchor="end">135</text>
<line x1="32.2" y1="412.6" x2="35.8" y2="412.6" stroke="#333" stroke-width="0.6"/>
<text x="30" y="417" font-size="9.5" text-anchor="end">125</text>
<line x1="32.2" y1="431" x2="35.8" y2="431" stroke="#333" stroke-width="0.6"/>
<text x="30" y="435.4" font-size="9.5" text-anchor="end">115</text>
<line x1="32.2" y1="449.4" x2="35.8" y2="449.4" stroke="#333" stroke-width="0.6"/>
<text x="30" y="453.8" font-size="9.5" text-anchor="end">105</text>
<line x1="32.2" y1="467.8" x2="35.8" y2="467.8" stroke="#333" stroke-width="0.6"/>
<text x="30" y="472.2" font-size="9.5" text-anchor="end">95</text>
<text transform="translate(8.4,357.7) rotate(-90)" font-size="9.4" font-weight="bold" text-anchor="middle">Relative doubling time (%)</text>
<line x1="44.3" y1="341" x2="44.3" y2="342.7" stroke="#1a1a1a" stroke-width="0.5"/>
<line x1="44.3" y1="345.6" x2="44.3" y2="348" stroke="#1a1a1a" stroke-width="0.5"/>
<rect x="39.1" y="342.7" width="10.4" height="2.9" fill="#a4a4a4" stroke="#1a1a1a" stroke-width="0.5"/>
<line x1="39.1" y1="344.3" x2="49.5" y2="344.3" stroke="#222" stroke-width="0.7"/>
<circle cx="44.3" cy="341" r="1" fill="#c4c4c4" stroke="#1a1a1a" stroke-width="0.45"/>
<circle cx="44.3" cy="348" r="1" fill="#c4c4c4" stroke="#1a1a1a" stroke-width="0.45"/>
<line x1="55.45" y1="306.6" x2="55.45" y2="311.1" stroke="#222" stroke-width="0.5"/>
<line x1="55.45" y1="316.1" x2="55.45" y2="319.3" stroke="#222" stroke-width="0.5"/>
<rect x="50" y="311.1" width="10.9" height="5" fill="#3f6fbf" stroke="#222" stroke-width="0.5"/>
<circle cx="54.4" cy="306.6" r="1.05" fill="#3f6fbf" stroke="#1a1a1a" stroke-width="0.35"/>
<circle cx="56.5" cy="306.6" r="1.05" fill="#3f6fbf" stroke="#1a1a1a" stroke-width="0.35"/>
<circle cx="55.45" cy="310" r="1.05" fill="#3f6fbf" stroke="#1a1a1a" stroke-width="0.35"/>
<circle cx="51.25" cy="312.6" r="1.05" fill="#3f6fbf" stroke="#1a1a1a" stroke-width="0.35"/>
<circle cx="53.35" cy="312.6" r="1.05" fill="#3f6fbf" stroke="#1a1a1a" stroke-width="0.35"/>
<circle cx="55.45" cy="312.6" r="1.05" fill="#3f6fbf" stroke="#1a1a1a" stroke-width="0.35"/>
<circle cx="57.55" cy="312.6" r="1.05" fill="#3f6fbf" stroke="#1a1a1a" stroke-width="0.35"/>
<circle cx="59.65" cy="312.6" r="1.05" fill="#3f6fbf" stroke="#1a1a1a" stroke-width="0.35"/>
<circle cx="51.25" cy="315.4" r="1.05" fill="#3f6fbf" stroke="#1a1a1a" stroke-width="0.35"/>
<circle cx="53.35" cy="315.4" r="1.05" fill="#3f6fbf" stroke="#1a1a1a" stroke-width="0.35"/>
<circle cx="55.45" cy="315.4" r="1.05" fill="#3f6fbf" stroke="#1a1a1a" stroke-width="0.35"/>
<circle cx="57.55" cy="315.4" r="1.05" fill="#3f6fbf" stroke="#1a1a1a" stroke-width="0.35"/>
<circle cx="59.65" cy="315.4" r="1.05" fill="#3f6fbf" stroke="#1a1a1a" stroke-width="0.35"/>
<circle cx="55.45" cy="319.3" r="1.05" fill="#3f6fbf" stroke="#1a1a1a" stroke-width="0.35"/>
<line x1="66.7" y1="338.2" x2="66.7" y2="341.8" stroke="#1a1a1a" stroke-width="0.5"/>
<line x1="66.7" y1="347.8" x2="66.7" y2="350.3" stroke="#1a1a1a" stroke-width="0.5"/>
<rect x="61.5" y="341.8" width="10.4" height="6" fill="#a4a4a4" stroke="#1a1a1a" stroke-width="0.5"/>
<line x1="62" y1="343.12" x2="71.4" y2="343.12" stroke="#d6d6d6" stroke-width="0.5"/>
<line x1="62" y1="346.72" x2="71.4" y2="346.72" stroke="#d6d6d6" stroke-width="0.5"/>
<line x1="61.5" y1="345.1" x2="71.9" y2="345.1" stroke="#222" stroke-width="0.7"/>
<circle cx="66.7" cy="338.2" r="1" fill="#c4c4c4" stroke="#1a1a1a" stroke-width="0.45"/>
<circle cx="66.7" cy="350.3" r="1" fill="#c4c4c4" stroke="#1a1a1a" stroke-width="0.45"/>
<line x1="78.4" y1="289.4" x2="78.4" y2="295.5" stroke="#222" stroke-width="0.5"/>
<line x1="78.4" y1="301.5" x2="78.4" y2="307.2" stroke="#222" stroke-width="0.5"/>
<rect x="73.2" y="295.5" width="10.4" height="6" fill="#e8741c" stroke="#222" stroke-width="0.5"/>
<circle cx="78.4" cy="289.4" r="1.05" fill="#e8741c" stroke="#1a1a1a" stroke-width="0.35"/>
<circle cx="77.35" cy="292.6" r="1.05" fill="#e8741c" stroke="#1a1a1a" stroke-width="0.35"/>
<circle cx="79.45" cy="292.6" r="1.05" fill="#e8741c" stroke="#1a1a1a" stroke-width="0.35"/>
<circle cx="75.25" cy="295.8" r="1.05" fill="#e8741c" stroke="#1a1a1a" stroke-width="0.35"/>
<circle cx="77.35" cy="295.8" r="1.05" fill="#e8741c" stroke="#1a1a1a" stroke-width="0.35"/>
<circle cx="79.45" cy="295.8" r="1.05" fill="#e8741c" stroke="#1a1a1a" stroke-width="0.35"/>
<circle cx="81.55" cy="295.8" r="1.05" fill="#e8741c" stroke="#1a1a1a" stroke-width="0.35"/>
<circle cx="73.15" cy="298" r="1.05" fill="#e8741c" stroke="#1a1a1a" stroke-width="0.35"/>
<circle cx="75.25" cy="298" r="1.05" fill="#e8741c" stroke="#1a1a1a" stroke-width="0.35"/>
<circle cx="77.35" cy="298" r="1.05" fill="#e8741c" stroke="#1a1a1a" stroke-width="0.35"/>
<circle cx="79.45" cy="298" r="1.05" fill="#e8741c" stroke="#1a1a1a" stroke-width="0.35"/>
<circle cx="81.55" cy="298" r="1.05" fill="#e8741c" stroke="#1a1a1a" stroke-width="0.35"/>
<circle cx="83.65" cy="298" r="1.05" fill="#e8741c" stroke="#1a1a1a" stroke-width="0.35"/>
<circle cx="73.15" cy="300.2" r="1.05" fill="#e8741c" stroke="#1a1a1a" stroke-width="0.35"/>
<circle cx="75.25" cy="300.2" r="1.05" fill="#e8741c" stroke="#1a1a1a" stroke-width="0.35"/>
<circle cx="77.35" cy="300.2" r="1.05" fill="#e8741c" stroke="#1a1a1a" stroke-width="0.35"/>
<circle cx="79.45" cy="300.2" r="1.05" fill="#e8741c" stroke="#1a1a1a" stroke-width="0.35"/>
<circle cx="81.55" cy="300.2" r="1.05" fill="#e8741c" stroke="#1a1a1a" stroke-width="0.35"/>
<circle cx="83.65" cy="300.2" r="1.05" fill="#e8741c" stroke="#1a1a1a" stroke-width="0.35"/>
<circle cx="76.3" cy="303.7" r="1.05" fill="#e8741c" stroke="#1a1a1a" stroke-width="0.35"/>
<circle cx="78.4" cy="303.7" r="1.05" fill="#e8741c" stroke="#1a1a1a" stroke-width="0.35"/>
<circle cx="80.5" cy="303.7" r="1.05" fill="#e8741c" stroke="#1a1a1a" stroke-width="0.35"/>
<circle cx="77.35" cy="307.2" r="1.05" fill="#e8741c" stroke="#1a1a1a" stroke-width="0.35"/>
<circle cx="79.45" cy="307.2" r="1.05" fill="#e8741c" stroke="#1a1a1a" stroke-width="0.35"/>
<line x1="89.3" y1="338.2" x2="89.3" y2="341.8" stroke="#1a1a1a" stroke-width="0.5"/>
<line x1="89.3" y1="347.8" x2="89.3" y2="350.3" stroke="#1a1a1a" stroke-width="0.5"/>
<rect x="84.1" y="341.8" width="10.4" height="6" fill="#a4a4a4" stroke="#1a1a1a" stroke-width="0.5"/>
<line x1="84.6" y1="343.12" x2="94" y2="343.12" stroke="#d6d6d6" stroke-width="0.5"/>
<line x1="84.6" y1="346.72" x2="94" y2="346.72" stroke="#d6d6d6" stroke-width="0.5"/>
<line x1="84.1" y1="345.1" x2="94.5" y2="345.1" stroke="#222" stroke-width="0.7"/>
<circle cx="89.3" cy="338.2" r="1" fill="#c4c4c4" stroke="#1a1a1a" stroke-width="0.45"/>
<circle cx="89.3" cy="350.3" r="1" fill="#c4c4c4" stroke="#1a1a1a" stroke-width="0.45"/>
<line x1="100.9" y1="297.6" x2="100.9" y2="307.4" stroke="#222" stroke-width="0.5"/>
<line x1="100.9" y1="324.7" x2="100.9" y2="329.4" stroke="#222" stroke-width="0.5"/>
<rect x="95.6" y="307.4" width="10.6" height="17.3" fill="#6cb24a" stroke="#222" stroke-width="0.5"/>
<line x1="95.6" y1="313.2" x2="106.2" y2="313.2" stroke="#222" stroke-width="0.8"/>
<circle cx="100" cy="297.9" r="1.1" fill="#6cb24a" stroke="#1a1a1a" stroke-width="0.35"/>
<circle cx="101.8" cy="297.9" r="1.1" fill="#6cb24a" stroke="#1a1a1a" stroke-width="0.35"/>
<circle cx="100.9" cy="329.2" r="1.1" fill="#6cb24a" stroke="#1a1a1a" stroke-width="0.35"/>
<circle cx="100.9" cy="313.2" r="1.2" fill="#6cb24a" stroke="#1a1a1a" stroke-width="0.35"/>
<circle cx="100.9" cy="318.5" r="1.1" fill="#6cb24a" stroke="#1a1a1a" stroke-width="0.35"/>
<circle cx="101.9" cy="318.5" r="1.1" fill="#6cb24a" stroke="#1a1a1a" stroke-width="0.35"/>
<line x1="96.5" y1="321.8" x2="105.3" y2="321.8" stroke="#2c5a1a" stroke-width="0.5"/>
<polyline points="44.2,304.1 44.2,302.7 56.4,302.7 56.4,304.1" fill="none" stroke="#000" stroke-width="0.95"/>
<text x="50.3" y="302.2" font-size="9.6" text-anchor="middle" font-weight="bold">****</text>
<polyline points="68.1,288 68.1,286.6 80.7,286.6 80.7,288" fill="none" stroke="#000" stroke-width="0.95"/>
<text x="74.4" y="286.1" font-size="9.6" text-anchor="middle" font-weight="bold">****</text>
<polyline points="90,295.2 90,293.8 102.6,293.8 102.6,295.2" fill="none" stroke="#000" stroke-width="0.95"/>
<text x="96.3" y="293.3" font-size="9.6" text-anchor="middle" font-weight="bold">****</text>
<line x1="120.15" y1="339.9" x2="120.15" y2="342.7" stroke="#1a1a1a" stroke-width="0.5"/>
<line x1="120.15" y1="345.5" x2="120.15" y2="347.4" stroke="#1a1a1a" stroke-width="0.5"/>
<rect x="115.7" y="342.7" width="8.9" height="2.8" fill="#a4a4a4" stroke="#1a1a1a" stroke-width="0.5"/>
<line x1="115.7" y1="344.24" x2="124.6" y2="344.24" stroke="#222" stroke-width="0.7"/>
<circle cx="120.15" cy="339.9" r="1" fill="#c4c4c4" stroke="#1a1a1a" stroke-width="0.45"/>
<circle cx="120.15" cy="347.4" r="1" fill="#c4c4c4" stroke="#1a1a1a" stroke-width="0.45"/>
<circle cx="130" cy="334.9" r="1.05" fill="#3f6fbf" stroke="#1a1a1a" stroke-width="0.35"/>
<circle cx="132" cy="334.9" r="1.05" fill="#3f6fbf" stroke="#1a1a1a" stroke-width="0.35"/>
<circle cx="134" cy="334.9" r="1.05" fill="#3f6fbf" stroke="#1a1a1a" stroke-width="0.35"/>
<circle cx="128" cy="338.3" r="1.05" fill="#3f6fbf" stroke="#1a1a1a" stroke-width="0.35"/>
<circle cx="130" cy="338.3" r="1.05" fill="#3f6fbf" stroke="#1a1a1a" stroke-width="0.35"/>
<circle cx="132" cy="338.3" r="1.05" fill="#3f6fbf" stroke="#1a1a1a" stroke-width="0.35"/>
<circle cx="134" cy="338.3" r="1.05" fill="#3f6fbf" stroke="#1a1a1a" stroke-width="0.35"/>
<circle cx="136" cy="338.3" r="1.05" fill="#3f6fbf" stroke="#1a1a1a" stroke-width="0.35"/>
<circle cx="127" cy="340.4" r="1.05" fill="#3f6fbf" stroke="#1a1a1a" stroke-width="0.35"/>
<circle cx="129" cy="340.4" r="1.05" fill="#3f6fbf" stroke="#1a1a1a" stroke-width="0.35"/>
<circle cx="131" cy="340.4" r="1.05" fill="#3f6fbf" stroke="#1a1a1a" stroke-width="0.35"/>
<circle cx="133" cy="340.4" r="1.05" fill="#3f6fbf" stroke="#1a1a1a" stroke-width="0.35"/>
<circle cx="135" cy="340.4" r="1.05" fill="#3f6fbf" stroke="#1a1a1a" stroke-width="0.35"/>
<circle cx="137" cy="340.4" r="1.05" fill="#3f6fbf" stroke="#1a1a1a" stroke-width="0.35"/>
<circle cx="127" cy="342.5" r="1.05" fill="#3f6fbf" stroke="#1a1a1a" stroke-width="0.35"/>
<circle cx="129" cy="342.5" r="1.05" fill="#3f6fbf" stroke="#1a1a1a" stroke-width="0.35"/>
<circle cx="131" cy="342.5" r="1.05" fill="#3f6fbf" stroke="#1a1a1a" stroke-width="0.35"/>
<circle cx="133" cy="342.5" r="1.05" fill="#3f6fbf" stroke="#1a1a1a" stroke-width="0.35"/>
<circle cx="135" cy="342.5" r="1.05" fill="#3f6fbf" stroke="#1a1a1a" stroke-width="0.35"/>
<circle cx="137" cy="342.5" r="1.05" fill="#3f6fbf" stroke="#1a1a1a" stroke-width="0.35"/>
<circle cx="128" cy="344.5" r="1.05" fill="#3f6fbf" stroke="#1a1a1a" stroke-width="0.35"/>
<circle cx="130" cy="344.5" r="1.05" fill="#3f6fbf" stroke="#1a1a1a" stroke-width="0.35"/>
<circle cx="132" cy="344.5" r="1.05" fill="#3f6fbf" stroke="#1a1a1a" stroke-width="0.35"/>
<circle cx="134" cy="344.5" r="1.05" fill="#3f6fbf" stroke="#1a1a1a" stroke-width="0.35"/>
<circle cx="136" cy="344.5" r="1.05" fill="#3f6fbf" stroke="#1a1a1a" stroke-width="0.35"/>
<circle cx="129" cy="346.1" r="1.05" fill="#3f6fbf" stroke="#1a1a1a" stroke-width="0.35"/>
<circle cx="131" cy="346.1" r="1.05" fill="#3f6fbf" stroke="#1a1a1a" stroke-width="0.35"/>
<circle cx="133" cy="346.1" r="1.05" fill="#3f6fbf" stroke="#1a1a1a" stroke-width="0.35"/>
<circle cx="135" cy="346.1" r="1.05" fill="#3f6fbf" stroke="#1a1a1a" stroke-width="0.35"/>
<line x1="143.2" y1="338.9" x2="143.2" y2="342.7" stroke="#1a1a1a" stroke-width="0.5"/>
<line x1="143.2" y1="346.6" x2="143.2" y2="350" stroke="#1a1a1a" stroke-width="0.5"/>
<rect x="138.6" y="342.7" width="9.2" height="3.9" fill="#a4a4a4" stroke="#1a1a1a" stroke-width="0.5"/>
<line x1="139.1" y1="343.56" x2="147.3" y2="343.56" stroke="#d6d6d6" stroke-width="0.5"/>
<line x1="139.1" y1="345.9" x2="147.3" y2="345.9" stroke="#d6d6d6" stroke-width="0.5"/>
<line x1="138.6" y1="344.85" x2="147.8" y2="344.85" stroke="#222" stroke-width="0.7"/>
<circle cx="143.2" cy="338.9" r="1" fill="#c4c4c4" stroke="#1a1a1a" stroke-width="0.45"/>
<circle cx="143.2" cy="350" r="1" fill="#c4c4c4" stroke="#1a1a1a" stroke-width="0.45"/>
<line x1="154.8" y1="336.4" x2="154.8" y2="340.7" stroke="#222" stroke-width="0.5"/>
<line x1="154.8" y1="348.7" x2="154.8" y2="351.2" stroke="#222" stroke-width="0.5"/>
<rect x="149.5" y="340.7" width="10.6" height="8" fill="#e8741c" stroke="#222" stroke-width="0.5"/>
<line x1="149.5" y1="345" x2="160.1" y2="345" stroke="#222" stroke-width="0.8"/>
<circle cx="154.8" cy="336.4" r="1.05" fill="#e8741c" stroke="#1a1a1a" stroke-width="0.35"/>
<circle cx="154.8" cy="339.3" r="1.05" fill="#e8741c" stroke="#1a1a1a" stroke-width="0.35"/>
<circle cx="151" cy="341.3" r="1.05" fill="#e8741c" stroke="#1a1a1a" stroke-width="0.35"/>
<circle cx="152.9" cy="341.3" r="1.05" fill="#e8741c" stroke="#1a1a1a" stroke-width="0.35"/>
<circle cx="154.8" cy="341.3" r="1.05" fill="#e8741c" stroke="#1a1a1a" stroke-width="0.35"/>
<circle cx="156.7" cy="341.3" r="1.05" fill="#e8741c" stroke="#1a1a1a" stroke-width="0.35"/>
<circle cx="158.6" cy="341.3" r="1.05" fill="#e8741c" stroke="#1a1a1a" stroke-width="0.35"/>
<circle cx="154.8" cy="344.3" r="1.05" fill="#e8741c" stroke="#1a1a1a" stroke-width="0.35"/>
<circle cx="154.8" cy="346.5" r="1.05" fill="#e8741c" stroke="#1a1a1a" stroke-width="0.35"/>
<circle cx="151.95" cy="351.2" r="1.05" fill="#e8741c" stroke="#1a1a1a" stroke-width="0.35"/>
<circle cx="153.85" cy="351.2" r="1.05" fill="#e8741c" stroke="#1a1a1a" stroke-width="0.35"/>
<circle cx="155.75" cy="351.2" r="1.05" fill="#e8741c" stroke="#1a1a1a" stroke-width="0.35"/>
<circle cx="157.65" cy="351.2" r="1.05" fill="#e8741c" stroke="#1a1a1a" stroke-width="0.35"/>
<line x1="166.35" y1="338.9" x2="166.35" y2="342.7" stroke="#1a1a1a" stroke-width="0.5"/>
<line x1="166.35" y1="346.6" x2="166.35" y2="350" stroke="#1a1a1a" stroke-width="0.5"/>
<rect x="161.7" y="342.7" width="9.3" height="3.9" fill="#a4a4a4" stroke="#1a1a1a" stroke-width="0.5"/>
<line x1="162.2" y1="343.56" x2="170.5" y2="343.56" stroke="#d6d6d6" stroke-width="0.5"/>
<line x1="162.2" y1="345.9" x2="170.5" y2="345.9" stroke="#d6d6d6" stroke-width="0.5"/>
<line x1="161.7" y1="344.85" x2="171" y2="344.85" stroke="#222" stroke-width="0.7"/>
<circle cx="166.35" cy="338.9" r="1" fill="#c4c4c4" stroke="#1a1a1a" stroke-width="0.45"/>
<circle cx="166.35" cy="350" r="1" fill="#c4c4c4" stroke="#1a1a1a" stroke-width="0.45"/>
<rect x="172.8" y="340.4" width="9.8" height="2.2" fill="#6cb24a" stroke="#2a4a1a" stroke-width="0.45"/>
<circle cx="174.88" cy="338" r="1.05" fill="#6cb24a" stroke="#1a1a1a" stroke-width="0.35"/>
<circle cx="176.82" cy="338" r="1.05" fill="#6cb24a" stroke="#1a1a1a" stroke-width="0.35"/>
<circle cx="178.78" cy="338" r="1.05" fill="#6cb24a" stroke="#1a1a1a" stroke-width="0.35"/>
<circle cx="180.72" cy="338" r="1.05" fill="#6cb24a" stroke="#1a1a1a" stroke-width="0.35"/>
<circle cx="171.95" cy="343.8" r="1.05" fill="#6cb24a" stroke="#1a1a1a" stroke-width="0.35"/>
<circle cx="173.9" cy="343.8" r="1.05" fill="#6cb24a" stroke="#1a1a1a" stroke-width="0.35"/>
<circle cx="175.85" cy="343.8" r="1.05" fill="#6cb24a" stroke="#1a1a1a" stroke-width="0.35"/>
<circle cx="177.8" cy="343.8" r="1.05" fill="#6cb24a" stroke="#1a1a1a" stroke-width="0.35"/>
<circle cx="179.75" cy="343.8" r="1.05" fill="#6cb24a" stroke="#1a1a1a" stroke-width="0.35"/>
<circle cx="181.7" cy="343.8" r="1.05" fill="#6cb24a" stroke="#1a1a1a" stroke-width="0.35"/>
<circle cx="183.65" cy="343.8" r="1.05" fill="#6cb24a" stroke="#1a1a1a" stroke-width="0.35"/>
<circle cx="175.85" cy="347.2" r="1.05" fill="#6cb24a" stroke="#1a1a1a" stroke-width="0.35"/>
<circle cx="177.8" cy="347.2" r="1.05" fill="#6cb24a" stroke="#1a1a1a" stroke-width="0.35"/>
<circle cx="179.75" cy="347.2" r="1.05" fill="#6cb24a" stroke="#1a1a1a" stroke-width="0.35"/>
<polyline points="120.2,330.3 120.2,328.9 132.4,328.9 132.4,330.3" fill="none" stroke="#000" stroke-width="0.95"/>
<text x="126.6" y="326.6" font-size="9.4" text-anchor="middle">ns</text>
<polyline points="143.2,330.3 143.2,328.9 155.4,328.9 155.4,330.3" fill="none" stroke="#000" stroke-width="0.95"/>
<text x="149.6" y="326.6" font-size="9.4" text-anchor="middle">ns</text>
<polyline points="166.1,330.3 166.1,328.9 178.3,328.9 178.3,330.3" fill="none" stroke="#000" stroke-width="0.95"/>
<text x="172.5" y="326.6" font-size="9.4" text-anchor="middle">ns</text>
<line x1="191.8" y1="344.3" x2="202.3" y2="344.3" stroke="#111" stroke-width="0.9"/>
<rect x="192.7" y="343" width="8.7" height="2.6" fill="#8a8a8a" stroke="#111" stroke-width="0.5"/>
<circle cx="194.95" cy="344.3" r="0.95" fill="#bdbdbd" stroke="#111" stroke-width="0.4"/>
<circle cx="197.05" cy="344.3" r="0.95" fill="#bdbdbd" stroke="#111" stroke-width="0.4"/>
<circle cx="199.15" cy="344.3" r="0.95" fill="#bdbdbd" stroke="#111" stroke-width="0.4"/>
<rect x="203.2" y="337.4" width="10.9" height="5.4" fill="#3f6fbf" stroke="#222" stroke-width="0.5"/>
<circle cx="204.45" cy="338.9" r="1.05" fill="#3f6fbf" stroke="#1a1a1a" stroke-width="0.35"/>
<circle cx="206.55" cy="338.9" r="1.05" fill="#3f6fbf" stroke="#1a1a1a" stroke-width="0.35"/>
<circle cx="208.65" cy="338.9" r="1.05" fill="#3f6fbf" stroke="#1a1a1a" stroke-width="0.35"/>
<circle cx="210.75" cy="338.9" r="1.05" fill="#3f6fbf" stroke="#1a1a1a" stroke-width="0.35"/>
<circle cx="212.85" cy="338.9" r="1.05" fill="#3f6fbf" stroke="#1a1a1a" stroke-width="0.35"/>
<circle cx="204.45" cy="341.6" r="1.05" fill="#3f6fbf" stroke="#1a1a1a" stroke-width="0.35"/>
<circle cx="206.55" cy="341.6" r="1.05" fill="#3f6fbf" stroke="#1a1a1a" stroke-width="0.35"/>
<circle cx="208.65" cy="341.6" r="1.05" fill="#3f6fbf" stroke="#1a1a1a" stroke-width="0.35"/>
<circle cx="210.75" cy="341.6" r="1.05" fill="#3f6fbf" stroke="#1a1a1a" stroke-width="0.35"/>
<circle cx="212.85" cy="341.6" r="1.05" fill="#3f6fbf" stroke="#1a1a1a" stroke-width="0.35"/>
<line x1="214.9" y1="344.3" x2="225.4" y2="344.3" stroke="#111" stroke-width="0.9"/>
<rect x="215.8" y="343" width="8.7" height="2.6" fill="#8a8a8a" stroke="#111" stroke-width="0.5"/>
<circle cx="218.05" cy="344.3" r="0.95" fill="#bdbdbd" stroke="#111" stroke-width="0.4"/>
<circle cx="220.15" cy="344.3" r="0.95" fill="#bdbdbd" stroke="#111" stroke-width="0.4"/>
<circle cx="222.25" cy="344.3" r="0.95" fill="#bdbdbd" stroke="#111" stroke-width="0.4"/>
<line x1="220.15" y1="341" x2="220.15" y2="343.3" stroke="#1a1a1a" stroke-width="0.5"/>
<circle cx="220.15" cy="341" r="0.95" fill="#c8c8c8" stroke="#1a1a1a" stroke-width="0.4"/>
<rect x="226.6" y="334.8" width="10" height="4.2" fill="#e8741c" stroke="#222" stroke-width="0.5"/>
<circle cx="230.47" cy="333.8" r="1.1" fill="#e8741c" stroke="#1a1a1a" stroke-width="0.35"/>
<circle cx="232.72" cy="333.8" r="1.1" fill="#e8741c" stroke="#1a1a1a" stroke-width="0.35"/>
<circle cx="227.1" cy="336.7" r="1.1" fill="#e8741c" stroke="#1a1a1a" stroke-width="0.35"/>
<circle cx="229.35" cy="336.7" r="1.1" fill="#e8741c" stroke="#1a1a1a" stroke-width="0.35"/>
<circle cx="231.6" cy="336.7" r="1.1" fill="#e8741c" stroke="#1a1a1a" stroke-width="0.35"/>
<circle cx="233.85" cy="336.7" r="1.1" fill="#e8741c" stroke="#1a1a1a" stroke-width="0.35"/>
<circle cx="236.1" cy="336.7" r="1.1" fill="#e8741c" stroke="#1a1a1a" stroke-width="0.35"/>
<circle cx="229.35" cy="339.6" r="1.1" fill="#e8741c" stroke="#1a1a1a" stroke-width="0.35"/>
<circle cx="231.6" cy="339.6" r="1.1" fill="#e8741c" stroke="#1a1a1a" stroke-width="0.35"/>
<circle cx="233.85" cy="339.6" r="1.1" fill="#e8741c" stroke="#1a1a1a" stroke-width="0.35"/>
<line x1="237.6" y1="344.3" x2="248.3" y2="344.3" stroke="#111" stroke-width="0.9"/>
<rect x="238.5" y="343" width="8.9" height="2.6" fill="#8a8a8a" stroke="#111" stroke-width="0.5"/>
<circle cx="240.85" cy="344.3" r="0.95" fill="#bdbdbd" stroke="#111" stroke-width="0.4"/>
<circle cx="242.95" cy="344.3" r="0.95" fill="#bdbdbd" stroke="#111" stroke-width="0.4"/>
<circle cx="245.05" cy="344.3" r="0.95" fill="#bdbdbd" stroke="#111" stroke-width="0.4"/>
<line x1="242.95" y1="341" x2="242.95" y2="343.3" stroke="#1a1a1a" stroke-width="0.5"/>
<circle cx="242.95" cy="341" r="0.95" fill="#c8c8c8" stroke="#1a1a1a" stroke-width="0.4"/>
<line x1="252.9" y1="333.3" x2="252.9" y2="336.1" stroke="#222" stroke-width="0.5"/>
<rect x="248.6" y="336.1" width="8.6" height="5" fill="#6cb24a" stroke="#222" stroke-width="0.5"/>
<line x1="248.6" y1="338.6" x2="257.2" y2="338.6" stroke="#222" stroke-width="0.8"/>
<circle cx="252.9" cy="333.3" r="1.1" fill="#6cb24a" stroke="#1a1a1a" stroke-width="0.35"/>
<polyline points="197.2,330.3 197.2,328.9 209.1,328.9 209.1,330.3" fill="none" stroke="#000" stroke-width="0.95"/>
<text x="203.45" y="326.6" font-size="9.4" text-anchor="middle">ns</text>
<polyline points="220,330.3 220,328.9 232.1,328.9 232.1,330.3" fill="none" stroke="#000" stroke-width="0.95"/>
<text x="226.05" y="328.4" font-size="9.6" text-anchor="middle" font-weight="bold">**</text>
<polyline points="244.2,330.3 244.2,328.9 256.4,328.9 256.4,330.3" fill="none" stroke="#000" stroke-width="0.95"/>
<text x="250.3" y="328.4" font-size="9.6" text-anchor="middle" font-weight="bold">*</text>
<line x1="39.2" y1="458.6" x2="49.5" y2="458.6" stroke="#111" stroke-width="0.9"/>
<rect x="40.1" y="457.3" width="8.5" height="2.6" fill="#8a8a8a" stroke="#111" stroke-width="0.5"/>
<circle cx="42.25" cy="458.6" r="0.95" fill="#bdbdbd" stroke="#111" stroke-width="0.4"/>
<circle cx="44.35" cy="458.6" r="0.95" fill="#bdbdbd" stroke="#111" stroke-width="0.4"/>
<circle cx="46.45" cy="458.6" r="0.95" fill="#bdbdbd" stroke="#111" stroke-width="0.4"/>
<line x1="55.7" y1="440.3" x2="55.7" y2="442.7" stroke="#222" stroke-width="0.5"/>
<rect x="50.6" y="442.7" width="10.2" height="6.7" fill="#3f6fbf" stroke="#222" stroke-width="0.5"/>
<circle cx="54.7" cy="440.3" r="1.05" fill="#3f6fbf" stroke="#1a1a1a" stroke-width="0.35"/>
<circle cx="56.7" cy="440.3" r="1.05" fill="#3f6fbf" stroke="#1a1a1a" stroke-width="0.35"/>
<circle cx="52.7" cy="442.9" r="1.05" fill="#3f6fbf" stroke="#1a1a1a" stroke-width="0.35"/>
<circle cx="54.7" cy="442.9" r="1.05" fill="#3f6fbf" stroke="#1a1a1a" stroke-width="0.35"/>
<circle cx="56.7" cy="442.9" r="1.05" fill="#3f6fbf" stroke="#1a1a1a" stroke-width="0.35"/>
<circle cx="58.7" cy="442.9" r="1.05" fill="#3f6fbf" stroke="#1a1a1a" stroke-width="0.35"/>
<circle cx="53.7" cy="450.3" r="1.05" fill="#3f6fbf" stroke="#1a1a1a" stroke-width="0.35"/>
<circle cx="55.7" cy="450.3" r="1.05" fill="#3f6fbf" stroke="#1a1a1a" stroke-width="0.35"/>
<circle cx="57.7" cy="450.3" r="1.05" fill="#3f6fbf" stroke="#1a1a1a" stroke-width="0.35"/>
<line x1="66.8" y1="455.6" x2="66.8" y2="457.2" stroke="#1a1a1a" stroke-width="0.5"/>
<line x1="66.8" y1="460.2" x2="66.8" y2="461.9" stroke="#1a1a1a" stroke-width="0.5"/>
<rect x="61.7" y="457.2" width="10.2" height="3" fill="#a4a4a4" stroke="#1a1a1a" stroke-width="0.5"/>
<line x1="61.7" y1="458.85" x2="71.9" y2="458.85" stroke="#222" stroke-width="0.7"/>
<circle cx="66.8" cy="455.6" r="1" fill="#c4c4c4" stroke="#1a1a1a" stroke-width="0.45"/>
<circle cx="66.8" cy="461.9" r="1" fill="#c4c4c4" stroke="#1a1a1a" stroke-width="0.45"/>
<line x1="78.7" y1="438.2" x2="78.7" y2="444.6" stroke="#222" stroke-width="0.5"/>
<rect x="73.6" y="434" width="10.2" height="4.2" fill="#e8741c" stroke="#222" stroke-width="0.5"/>
<circle cx="74.2" cy="434.3" r="1.05" fill="#e8741c" stroke="#1a1a1a" stroke-width="0.35"/>
<circle cx="76.4" cy="434.3" r="1.05" fill="#e8741c" stroke="#1a1a1a" stroke-width="0.35"/>
<circle cx="78.6" cy="434.3" r="1.05" fill="#e8741c" stroke="#1a1a1a" stroke-width="0.35"/>
<circle cx="80.8" cy="434.3" r="1.05" fill="#e8741c" stroke="#1a1a1a" stroke-width="0.35"/>
<circle cx="83" cy="434.3" r="1.05" fill="#e8741c" stroke="#1a1a1a" stroke-width="0.35"/>
<circle cx="74.2" cy="436.7" r="1.05" fill="#e8741c" stroke="#1a1a1a" stroke-width="0.35"/>
<circle cx="76.4" cy="436.7" r="1.05" fill="#e8741c" stroke="#1a1a1a" stroke-width="0.35"/>
<circle cx="78.6" cy="436.7" r="1.05" fill="#e8741c" stroke="#1a1a1a" stroke-width="0.35"/>
<circle cx="80.8" cy="436.7" r="1.05" fill="#e8741c" stroke="#1a1a1a" stroke-width="0.35"/>
<circle cx="83" cy="436.7" r="1.05" fill="#e8741c" stroke="#1a1a1a" stroke-width="0.35"/>
<circle cx="77.5" cy="439.2" r="1.05" fill="#e8741c" stroke="#1a1a1a" stroke-width="0.35"/>
<circle cx="79.7" cy="439.2" r="1.05" fill="#e8741c" stroke="#1a1a1a" stroke-width="0.35"/>
<circle cx="78.6" cy="444.6" r="1.05" fill="#e8741c" stroke="#1a1a1a" stroke-width="0.35"/>
<line x1="84.4" y1="458.6" x2="94.9" y2="458.6" stroke="#111" stroke-width="0.9"/>
<rect x="85.3" y="457.3" width="8.7" height="2.6" fill="#8a8a8a" stroke="#111" stroke-width="0.5"/>
<circle cx="87.55" cy="458.6" r="0.95" fill="#bdbdbd" stroke="#111" stroke-width="0.4"/>
<circle cx="89.65" cy="458.6" r="0.95" fill="#bdbdbd" stroke="#111" stroke-width="0.4"/>
<circle cx="91.75" cy="458.6" r="0.95" fill="#bdbdbd" stroke="#111" stroke-width="0.4"/>
<line x1="101.4" y1="437.8" x2="101.4" y2="440.3" stroke="#222" stroke-width="0.5"/>
<rect x="96" y="440.3" width="10.8" height="7.5" fill="#6cb24a" stroke="#222" stroke-width="0.5"/>
<circle cx="100.4" cy="437.8" r="1.05" fill="#6cb24a" stroke="#1a1a1a" stroke-width="0.35"/>
<circle cx="102.4" cy="437.8" r="1.05" fill="#6cb24a" stroke="#1a1a1a" stroke-width="0.35"/>
<circle cx="97.4" cy="446.5" r="1.05" fill="#6cb24a" stroke="#1a1a1a" stroke-width="0.35"/>
<circle cx="99.4" cy="446.5" r="1.05" fill="#6cb24a" stroke="#1a1a1a" stroke-width="0.35"/>
<circle cx="101.4" cy="446.5" r="1.05" fill="#6cb24a" stroke="#1a1a1a" stroke-width="0.35"/>
<circle cx="103.4" cy="446.5" r="1.05" fill="#6cb24a" stroke="#1a1a1a" stroke-width="0.35"/>
<circle cx="105.4" cy="446.5" r="1.05" fill="#6cb24a" stroke="#1a1a1a" stroke-width="0.35"/>
<polyline points="45.1,431.1 45.1,429.7 58,429.7 58,431.1" fill="none" stroke="#000" stroke-width="0.95"/>
<text x="51.55" y="429.2" font-size="9.6" text-anchor="middle" font-weight="bold">****</text>
<polyline points="68.1,431.1 68.1,429.7 81.2,429.7 81.2,431.1" fill="none" stroke="#000" stroke-width="0.95"/>
<text x="74.65" y="429.2" font-size="9.6" text-anchor="middle" font-weight="bold">****</text>
<polyline points="91.2,431.1 91.2,429.7 103.7,429.7 103.7,431.1" fill="none" stroke="#000" stroke-width="0.95"/>
<text x="97.45" y="429.2" font-size="9.6" text-anchor="middle" font-weight="bold">****</text>
<line x1="120.6" y1="455.3" x2="120.6" y2="456.7" stroke="#1a1a1a" stroke-width="0.5"/>
<line x1="120.6" y1="459.5" x2="120.6" y2="462.2" stroke="#1a1a1a" stroke-width="0.5"/>
<rect x="115.7" y="456.7" width="9.8" height="2.8" fill="#a4a4a4" stroke="#1a1a1a" stroke-width="0.5"/>
<line x1="115.7" y1="458.24" x2="125.5" y2="458.24" stroke="#222" stroke-width="0.7"/>
<circle cx="120.6" cy="455.3" r="1" fill="#c4c4c4" stroke="#1a1a1a" stroke-width="0.45"/>
<circle cx="120.6" cy="462.2" r="1" fill="#c4c4c4" stroke="#1a1a1a" stroke-width="0.45"/>
<line x1="132" y1="440.3" x2="132" y2="445" stroke="#222" stroke-width="0.5"/>
<rect x="126.9" y="431.6" width="10.2" height="8.7" fill="#3f6fbf" stroke="#222" stroke-width="0.5"/>
<circle cx="129.9" cy="432.4" r="1.05" fill="#3f6fbf" stroke="#1a1a1a" stroke-width="0.35"/>
<circle cx="132" cy="432.4" r="1.05" fill="#3f6fbf" stroke="#1a1a1a" stroke-width="0.35"/>
<circle cx="134.1" cy="432.4" r="1.05" fill="#3f6fbf" stroke="#1a1a1a" stroke-width="0.35"/>
<circle cx="129.9" cy="434.6" r="1.05" fill="#3f6fbf" stroke="#1a1a1a" stroke-width="0.35"/>
<circle cx="132" cy="434.6" r="1.05" fill="#3f6fbf" stroke="#1a1a1a" stroke-width="0.35"/>
<circle cx="134.1" cy="434.6" r="1.05" fill="#3f6fbf" stroke="#1a1a1a" stroke-width="0.35"/>
<circle cx="129.9" cy="440.8" r="1.05" fill="#3f6fbf" stroke="#1a1a1a" stroke-width="0.35"/>
<circle cx="132" cy="440.8" r="1.05" fill="#3f6fbf" stroke="#1a1a1a" stroke-width="0.35"/>
<circle cx="134.1" cy="440.8" r="1.05" fill="#3f6fbf" stroke="#1a1a1a" stroke-width="0.35"/>
<circle cx="132" cy="445" r="1.05" fill="#3f6fbf" stroke="#1a1a1a" stroke-width="0.35"/>
<line x1="143.15" y1="455.3" x2="143.15" y2="456.7" stroke="#1a1a1a" stroke-width="0.5"/>
<line x1="143.15" y1="460" x2="143.15" y2="462.2" stroke="#1a1a1a" stroke-width="0.5"/>
<rect x="138.2" y="456.7" width="9.9" height="3.3" fill="#a4a4a4" stroke="#1a1a1a" stroke-width="0.5"/>
<line x1="138.7" y1="457.43" x2="147.6" y2="457.43" stroke="#d6d6d6" stroke-width="0.5"/>
<line x1="138.7" y1="459.41" x2="147.6" y2="459.41" stroke="#d6d6d6" stroke-width="0.5"/>
<line x1="138.2" y1="458.51" x2="148.1" y2="458.51" stroke="#222" stroke-width="0.7"/>
<circle cx="143.15" cy="455.3" r="1" fill="#c4c4c4" stroke="#1a1a1a" stroke-width="0.45"/>
<circle cx="143.15" cy="462.2" r="1" fill="#c4c4c4" stroke="#1a1a1a" stroke-width="0.45"/>
<rect x="150" y="444.6" width="9.6" height="6" fill="#e8741c" stroke="#222" stroke-width="0.5"/>
<circle cx="154.75" cy="443.2" r="1.05" fill="#e8741c" stroke="#1a1a1a" stroke-width="0.35"/>
<circle cx="151.53" cy="445.5" r="1.05" fill="#e8741c" stroke="#1a1a1a" stroke-width="0.35"/>
<circle cx="153.68" cy="445.5" r="1.05" fill="#e8741c" stroke="#1a1a1a" stroke-width="0.35"/>
<circle cx="155.83" cy="445.5" r="1.05" fill="#e8741c" stroke="#1a1a1a" stroke-width="0.35"/>
<circle cx="157.97" cy="445.5" r="1.05" fill="#e8741c" stroke="#1a1a1a" stroke-width="0.35"/>
<circle cx="150.45" cy="448.3" r="1.05" fill="#e8741c" stroke="#1a1a1a" stroke-width="0.35"/>
<circle cx="152.6" cy="448.3" r="1.05" fill="#e8741c" stroke="#1a1a1a" stroke-width="0.35"/>
<circle cx="154.75" cy="448.3" r="1.05" fill="#e8741c" stroke="#1a1a1a" stroke-width="0.35"/>
<circle cx="156.9" cy="448.3" r="1.05" fill="#e8741c" stroke="#1a1a1a" stroke-width="0.35"/>
<circle cx="159.05" cy="448.3" r="1.05" fill="#e8741c" stroke="#1a1a1a" stroke-width="0.35"/>
<circle cx="152.6" cy="451.2" r="1.05" fill="#e8741c" stroke="#1a1a1a" stroke-width="0.35"/>
<circle cx="154.75" cy="451.2" r="1.05" fill="#e8741c" stroke="#1a1a1a" stroke-width="0.35"/>
<circle cx="156.9" cy="451.2" r="1.05" fill="#e8741c" stroke="#1a1a1a" stroke-width="0.35"/>
<line x1="160.9" y1="458" x2="171.3" y2="458" stroke="#111" stroke-width="0.9"/>
<rect x="161.8" y="456.7" width="8.6" height="2.6" fill="#8a8a8a" stroke="#111" stroke-width="0.5"/>
<circle cx="164" cy="458" r="0.95" fill="#bdbdbd" stroke="#111" stroke-width="0.4"/>
<circle cx="166.1" cy="458" r="0.95" fill="#bdbdbd" stroke="#111" stroke-width="0.4"/>
<circle cx="168.2" cy="458" r="0.95" fill="#bdbdbd" stroke="#111" stroke-width="0.4"/>
<line x1="166.1" y1="455.5" x2="166.1" y2="457" stroke="#1a1a1a" stroke-width="0.5"/>
<circle cx="166.1" cy="455.5" r="0.95" fill="#c8c8c8" stroke="#1a1a1a" stroke-width="0.4"/>
<rect x="172.2" y="444.4" width="10.4" height="2.4" fill="#6cb24a" stroke="#2a4a1a" stroke-width="0.45"/>
<circle cx="175.3" cy="442.4" r="1.05" fill="#6cb24a" stroke="#1a1a1a" stroke-width="0.35"/>
<circle cx="177.4" cy="442.4" r="1.05" fill="#6cb24a" stroke="#1a1a1a" stroke-width="0.35"/>
<circle cx="179.5" cy="442.4" r="1.05" fill="#6cb24a" stroke="#1a1a1a" stroke-width="0.35"/>
<circle cx="173.2" cy="445.6" r="1.05" fill="#6cb24a" stroke="#1a1a1a" stroke-width="0.35"/>
<circle cx="175.3" cy="445.6" r="1.05" fill="#6cb24a" stroke="#1a1a1a" stroke-width="0.35"/>
<circle cx="177.4" cy="445.6" r="1.05" fill="#6cb24a" stroke="#1a1a1a" stroke-width="0.35"/>
<circle cx="179.5" cy="445.6" r="1.05" fill="#6cb24a" stroke="#1a1a1a" stroke-width="0.35"/>
<circle cx="181.6" cy="445.6" r="1.05" fill="#6cb24a" stroke="#1a1a1a" stroke-width="0.35"/>
<circle cx="176.35" cy="448.6" r="1.05" fill="#6cb24a" stroke="#1a1a1a" stroke-width="0.35"/>
<circle cx="178.45" cy="448.6" r="1.05" fill="#6cb24a" stroke="#1a1a1a" stroke-width="0.35"/>
<polyline points="121.7,428 121.7,426.6 133.6,426.6 133.6,428" fill="none" stroke="#000" stroke-width="0.95"/>
<text x="127.65" y="426.1" font-size="9.6" text-anchor="middle" font-weight="bold">****</text>
<polyline points="143.4,428 143.4,426.6 155.6,426.6 155.6,428" fill="none" stroke="#000" stroke-width="0.95"/>
<text x="149.5" y="426.1" font-size="9.6" text-anchor="middle" font-weight="bold">***</text>
<polyline points="167.7,428 167.7,426.6 179.7,426.6 179.7,428" fill="none" stroke="#000" stroke-width="0.95"/>
<text x="173.7" y="426.1" font-size="9.6" text-anchor="middle" font-weight="bold">****</text>
<line x1="197.15" y1="459.9" x2="197.15" y2="462" stroke="#1a1a1a" stroke-width="0.5"/>
<rect x="192.2" y="455.9" width="9.9" height="4" fill="#a4a4a4" stroke="#1a1a1a" stroke-width="0.5"/>
<line x1="192.7" y1="456.78" x2="201.6" y2="456.78" stroke="#d6d6d6" stroke-width="0.5"/>
<line x1="192.7" y1="459.18" x2="201.6" y2="459.18" stroke="#d6d6d6" stroke-width="0.5"/>
<line x1="192.2" y1="458.1" x2="202.1" y2="458.1" stroke="#222" stroke-width="0.7"/>
<circle cx="197.15" cy="462" r="1" fill="#c4c4c4" stroke="#1a1a1a" stroke-width="0.45"/>
<circle cx="208.6" cy="446.6" r="1" fill="#3f6fbf" stroke="#1a1a1a" stroke-width="0.35"/>
<circle cx="208.6" cy="448.6" r="1" fill="#3f6fbf" stroke="#1a1a1a" stroke-width="0.35"/>
<circle cx="208.6" cy="450.6" r="1" fill="#3f6fbf" stroke="#1a1a1a" stroke-width="0.35"/>
<circle cx="202.45" cy="453.3" r="1" fill="#3f6fbf" stroke="#1a1a1a" stroke-width="0.35"/>
<circle cx="204.5" cy="453.3" r="1" fill="#3f6fbf" stroke="#1a1a1a" stroke-width="0.35"/>
<circle cx="206.55" cy="453.3" r="1" fill="#3f6fbf" stroke="#1a1a1a" stroke-width="0.35"/>
<circle cx="208.6" cy="453.3" r="1" fill="#3f6fbf" stroke="#1a1a1a" stroke-width="0.35"/>
<circle cx="210.65" cy="453.3" r="1" fill="#3f6fbf" stroke="#1a1a1a" stroke-width="0.35"/>
<circle cx="212.7" cy="453.3" r="1" fill="#3f6fbf" stroke="#1a1a1a" stroke-width="0.35"/>
<circle cx="214.75" cy="453.3" r="1" fill="#3f6fbf" stroke="#1a1a1a" stroke-width="0.35"/>
<line x1="214.7" y1="458.5" x2="225.2" y2="458.5" stroke="#111" stroke-width="0.9"/>
<rect x="215.6" y="457.2" width="8.7" height="2.6" fill="#8a8a8a" stroke="#111" stroke-width="0.5"/>
<circle cx="217.85" cy="458.5" r="0.95" fill="#bdbdbd" stroke="#111" stroke-width="0.4"/>
<circle cx="219.95" cy="458.5" r="0.95" fill="#bdbdbd" stroke="#111" stroke-width="0.4"/>
<circle cx="222.05" cy="458.5" r="0.95" fill="#bdbdbd" stroke="#111" stroke-width="0.4"/>
<line x1="219.95" y1="456" x2="219.95" y2="457.5" stroke="#1a1a1a" stroke-width="0.5"/>
<circle cx="219.95" cy="456" r="0.95" fill="#c8c8c8" stroke="#1a1a1a" stroke-width="0.4"/>
<rect x="226.4" y="446.3" width="10" height="7" fill="#e8741c" stroke="#222" stroke-width="0.5"/>
<circle cx="229.3" cy="446" r="1.05" fill="#e8741c" stroke="#1a1a1a" stroke-width="0.35"/>
<circle cx="231.4" cy="446" r="1.05" fill="#e8741c" stroke="#1a1a1a" stroke-width="0.35"/>
<circle cx="233.5" cy="446" r="1.05" fill="#e8741c" stroke="#1a1a1a" stroke-width="0.35"/>
<circle cx="227.2" cy="448.2" r="1.05" fill="#e8741c" stroke="#1a1a1a" stroke-width="0.35"/>
<circle cx="229.3" cy="448.2" r="1.05" fill="#e8741c" stroke="#1a1a1a" stroke-width="0.35"/>
<circle cx="231.4" cy="448.2" r="1.05" fill="#e8741c" stroke="#1a1a1a" stroke-width="0.35"/>
<circle cx="233.5" cy="448.2" r="1.05" fill="#e8741c" stroke="#1a1a1a" stroke-width="0.35"/>
<circle cx="235.6" cy="448.2" r="1.05" fill="#e8741c" stroke="#1a1a1a" stroke-width="0.35"/>
<circle cx="227.2" cy="450.4" r="1.05" fill="#e8741c" stroke="#1a1a1a" stroke-width="0.35"/>
<circle cx="229.3" cy="450.4" r="1.05" fill="#e8741c" stroke="#1a1a1a" stroke-width="0.35"/>
<circle cx="231.4" cy="450.4" r="1.05" fill="#e8741c" stroke="#1a1a1a" stroke-width="0.35"/>
<circle cx="233.5" cy="450.4" r="1.05" fill="#e8741c" stroke="#1a1a1a" stroke-width="0.35"/>
<circle cx="235.6" cy="450.4" r="1.05" fill="#e8741c" stroke="#1a1a1a" stroke-width="0.35"/>
<circle cx="227.2" cy="452.6" r="1.05" fill="#e8741c" stroke="#1a1a1a" stroke-width="0.35"/>
<circle cx="229.3" cy="452.6" r="1.05" fill="#e8741c" stroke="#1a1a1a" stroke-width="0.35"/>
<circle cx="231.4" cy="452.6" r="1.05" fill="#e8741c" stroke="#1a1a1a" stroke-width="0.35"/>
<circle cx="233.5" cy="452.6" r="1.05" fill="#e8741c" stroke="#1a1a1a" stroke-width="0.35"/>
<circle cx="235.6" cy="452.6" r="1.05" fill="#e8741c" stroke="#1a1a1a" stroke-width="0.35"/>
<line x1="237.5" y1="458.5" x2="248" y2="458.5" stroke="#111" stroke-width="0.9"/>
<rect x="238.4" y="457.2" width="8.7" height="2.6" fill="#8a8a8a" stroke="#111" stroke-width="0.5"/>
<circle cx="240.65" cy="458.5" r="0.95" fill="#bdbdbd" stroke="#111" stroke-width="0.4"/>
<circle cx="242.75" cy="458.5" r="0.95" fill="#bdbdbd" stroke="#111" stroke-width="0.4"/>
<circle cx="244.85" cy="458.5" r="0.95" fill="#bdbdbd" stroke="#111" stroke-width="0.4"/>
<line x1="242.75" y1="456" x2="242.75" y2="457.5" stroke="#1a1a1a" stroke-width="0.5"/>
<circle cx="242.75" cy="456" r="0.95" fill="#c8c8c8" stroke="#1a1a1a" stroke-width="0.4"/>
<line x1="254.2" y1="437.5" x2="254.2" y2="441.9" stroke="#222" stroke-width="0.5"/>
<rect x="248.7" y="441.9" width="11" height="7" fill="#6cb24a" stroke="#222" stroke-width="0.5"/>
<line x1="248.7" y1="444.6" x2="259.7" y2="444.6" stroke="#222" stroke-width="0.8"/>
<circle cx="254.2" cy="437.5" r="1.1" fill="#6cb24a" stroke="#1a1a1a" stroke-width="0.35"/>
<circle cx="251.05" cy="446.8" r="1.05" fill="#6cb24a" stroke="#1a1a1a" stroke-width="0.35"/>
<circle cx="253.15" cy="446.8" r="1.05" fill="#6cb24a" stroke="#1a1a1a" stroke-width="0.35"/>
<circle cx="255.25" cy="446.8" r="1.05" fill="#6cb24a" stroke="#1a1a1a" stroke-width="0.35"/>
<circle cx="257.35" cy="446.8" r="1.05" fill="#6cb24a" stroke="#1a1a1a" stroke-width="0.35"/>
<polyline points="196.6,433.7 196.6,432.3 208.4,432.3 208.4,433.7" fill="none" stroke="#000" stroke-width="0.95"/>
<text x="202.5" y="431.8" font-size="9.6" text-anchor="middle" font-weight="bold">*</text>
<polyline points="220,433.7 220,432.3 231.7,432.3 231.7,433.7" fill="none" stroke="#000" stroke-width="0.95"/>
<text x="225.85" y="431.8" font-size="9.6" text-anchor="middle" font-weight="bold">**</text>
<polyline points="242.2,433.7 242.2,432.3 255,432.3 255,433.7" fill="none" stroke="#000" stroke-width="0.95"/>
<text x="248.6" y="431.8" font-size="9.6" text-anchor="middle" font-weight="bold">****</text>
<rect x="35.8" y="279.7" width="73.5" height="73.9" fill="none" stroke="#111" stroke-width="1.3"/>
<rect x="112.4" y="279.7" width="73.5" height="73.9" fill="none" stroke="#111" stroke-width="1.3"/>
<rect x="188.8" y="279.7" width="73.5" height="73.9" fill="none" stroke="#111" stroke-width="1.3"/>
<rect x="35.8" y="394.2" width="73.5" height="73.5" fill="none" stroke="#111" stroke-width="1.3"/>
<rect x="112.4" y="394.2" width="73.5" height="73.5" fill="none" stroke="#111" stroke-width="1.3"/>
<rect x="188.8" y="394.2" width="73.5" height="73.5" fill="none" stroke="#111" stroke-width="1.3"/>
<text x="268" y="335.6" font-size="9.4" font-weight="bold">Plasmid</text>
<rect x="268.4" y="345.6" width="8.8" height="5.6" fill="#a9a9a9" stroke="#444" stroke-width="0.5"/>
<line x1="272.8" y1="344.2" x2="272.8" y2="352.6" stroke="#222" stroke-width="0.5"/>
<line x1="268.4" y1="348.4" x2="277.2" y2="348.4" stroke="#222" stroke-width="0.6"/>
<circle cx="272.8" cy="348.4" r="1.9" fill="#a9a9a9" stroke="#222" stroke-width="0.5"/>
<text x="280.4" y="351.6" font-size="9.6">None</text>
<rect x="268.4" y="356.5" width="8.8" height="5.6" fill="#3f6fbf" stroke="#444" stroke-width="0.5"/>
<line x1="272.8" y1="355.1" x2="272.8" y2="363.5" stroke="#222" stroke-width="0.5"/>
<line x1="268.4" y1="359.3" x2="277.2" y2="359.3" stroke="#222" stroke-width="0.6"/>
<circle cx="272.8" cy="359.3" r="1.9" fill="#3f6fbf" stroke="#222" stroke-width="0.5"/>
<text x="280.4" y="362.5" font-size="9.6">pOXA-48_1</text>
<rect x="268.4" y="367.4" width="8.8" height="5.6" fill="#e8741c" stroke="#444" stroke-width="0.5"/>
<line x1="272.8" y1="366" x2="272.8" y2="374.4" stroke="#222" stroke-width="0.5"/>
<line x1="268.4" y1="370.2" x2="277.2" y2="370.2" stroke="#222" stroke-width="0.6"/>
<circle cx="272.8" cy="370.2" r="1.9" fill="#e8741c" stroke="#222" stroke-width="0.5"/>
<text x="280.4" y="373.4" font-size="9.6">pOXA-48_2</text>
<rect x="268.4" y="378.3" width="8.8" height="5.6" fill="#6cb24a" stroke="#444" stroke-width="0.5"/>
<line x1="272.8" y1="376.9" x2="272.8" y2="385.3" stroke="#222" stroke-width="0.5"/>
<line x1="268.4" y1="381.1" x2="277.2" y2="381.1" stroke="#222" stroke-width="0.6"/>
<circle cx="272.8" cy="381.1" r="1.9" fill="#6cb24a" stroke="#222" stroke-width="0.5"/>
<text x="280.4" y="384.3" font-size="9.6">pOXA-48_3</text>
<text x="339.3" y="255.8" font-size="10.5" font-weight="bold">c</text>
<rect x="370.5" y="260.3" width="88.6" height="28.3" fill="#fff" stroke="#3a3a3a" stroke-width="0.6"/>
<text x="414.8" y="277.3" font-size="9.6" text-anchor="middle">ST38_1</text>
<line x1="387.5" y1="415.8" x2="387.5" y2="419.4" stroke="#333" stroke-width="0.6"/>
<text transform="translate(391.5,434.3) rotate(-45)" font-size="9.5" text-anchor="end">pOXA-48_1</text>
<line x1="415.05" y1="415.8" x2="415.05" y2="419.4" stroke="#333" stroke-width="0.6"/>
<text transform="translate(419.05,434.3) rotate(-45)" font-size="9.5" text-anchor="end">pOXA-48_2</text>
<line x1="442.6" y1="415.8" x2="442.6" y2="419.4" stroke="#333" stroke-width="0.6"/>
<text transform="translate(446.6,434.3) rotate(-45)" font-size="9.5" text-anchor="end">pOXA-48_3</text>
<rect x="462.7" y="260.3" width="88.6" height="28.3" fill="#fff" stroke="#3a3a3a" stroke-width="0.6"/>
<text x="507" y="277.3" font-size="9.6" text-anchor="middle">ST38_2</text>
<line x1="479.7" y1="415.8" x2="479.7" y2="419.4" stroke="#333" stroke-width="0.6"/>
<text transform="translate(483.7,434.3) rotate(-45)" font-size="9.5" text-anchor="end">pOXA-48_1</text>
<line x1="507.25" y1="415.8" x2="507.25" y2="419.4" stroke="#333" stroke-width="0.6"/>
<text transform="translate(511.25,434.3) rotate(-45)" font-size="9.5" text-anchor="end">pOXA-48_2</text>
<line x1="534.8" y1="415.8" x2="534.8" y2="419.4" stroke="#333" stroke-width="0.6"/>
<text transform="translate(538.8,434.3) rotate(-45)" font-size="9.5" text-anchor="end">pOXA-48_3</text>
<rect x="554.9" y="260.3" width="88.6" height="28.3" fill="#fff" stroke="#3a3a3a" stroke-width="0.6"/>
<text x="599.2" y="277.3" font-size="9.6" text-anchor="middle">ST38_3</text>
<line x1="571.9" y1="415.8" x2="571.9" y2="419.4" stroke="#333" stroke-width="0.6"/>
<text transform="translate(575.9,434.3) rotate(-45)" font-size="9.5" text-anchor="end">pOXA-48_1</text>
<line x1="599.45" y1="415.8" x2="599.45" y2="419.4" stroke="#333" stroke-width="0.6"/>
<text transform="translate(603.45,434.3) rotate(-45)" font-size="9.5" text-anchor="end">pOXA-48_2</text>
<line x1="627" y1="415.8" x2="627" y2="419.4" stroke="#333" stroke-width="0.6"/>
<text transform="translate(631,434.3) rotate(-45)" font-size="9.5" text-anchor="end">pOXA-48_3</text>
<line x1="366.8" y1="415.8" x2="370.5" y2="415.8" stroke="#333" stroke-width="0.6"/>
<text x="364.4" y="418.4" font-size="9.5" text-anchor="end">0</text>
<line x1="366.8" y1="396.28" x2="370.5" y2="396.28" stroke="#333" stroke-width="0.6"/>
<text x="364.4" y="398.88" font-size="9.5" text-anchor="end">20</text>
<line x1="366.8" y1="376.77" x2="370.5" y2="376.77" stroke="#333" stroke-width="0.6"/>
<text x="364.4" y="379.37" font-size="9.5" text-anchor="end">40</text>
<line x1="366.8" y1="357.25" x2="370.5" y2="357.25" stroke="#333" stroke-width="0.6"/>
<text x="364.4" y="359.85" font-size="9.5" text-anchor="end">60</text>
<line x1="366.8" y1="337.74" x2="370.5" y2="337.74" stroke="#333" stroke-width="0.6"/>
<text x="364.4" y="340.34" font-size="9.5" text-anchor="end">80</text>
<line x1="366.8" y1="318.22" x2="370.5" y2="318.22" stroke="#333" stroke-width="0.6"/>
<text x="364.4" y="320.82" font-size="9.5" text-anchor="end">100</text>
<line x1="366.8" y1="298.7" x2="370.5" y2="298.7" stroke="#333" stroke-width="0.6"/>
<text x="364.4" y="301.3" font-size="9.5" text-anchor="end">120</text>
<text transform="translate(346.4,350.2) rotate(-90)" font-size="9.4" font-weight="bold" text-anchor="middle">Plasmid-carrying colonies (%)</text>
<circle cx="374.8" cy="318.8" r="1.85" fill="#a9a9a9" stroke="#1a1a1a" stroke-width="0.55"/>
<circle cx="378.3" cy="318.8" r="1.85" fill="#a9a9a9" stroke="#1a1a1a" stroke-width="0.55"/>
<circle cx="381.8" cy="318.8" r="1.85" fill="#a9a9a9" stroke="#1a1a1a" stroke-width="0.55"/>
<circle cx="387.4" cy="393.3" r="1.85" fill="#3f6fbf" stroke="#1a1a1a" stroke-width="0.55"/>
<circle cx="385.3" cy="397.4" r="1.85" fill="#3f6fbf" stroke="#1a1a1a" stroke-width="0.55"/>
<circle cx="389.5" cy="397.4" r="1.85" fill="#3f6fbf" stroke="#1a1a1a" stroke-width="0.55"/>
<circle cx="393.1" cy="415.4" r="1.85" fill="#e8741c" stroke="#1a1a1a" stroke-width="0.55"/>
<circle cx="396.6" cy="415.4" r="1.85" fill="#e8741c" stroke="#1a1a1a" stroke-width="0.55"/>
<circle cx="400.1" cy="415.4" r="1.85" fill="#e8741c" stroke="#1a1a1a" stroke-width="0.55"/>
<line x1="405.7" y1="304.3" x2="405.7" y2="313.2" stroke="#333" stroke-width="0.6"/>
<line x1="405.7" y1="330.5" x2="405.7" y2="338.3" stroke="#333" stroke-width="0.6"/>
<rect x="401.4" y="313.2" width="8.6" height="17.3" fill="#a9a9a9" stroke="#333" stroke-width="0.6"/>
<circle cx="405.7" cy="304.3" r="1.85" fill="#a9a9a9" stroke="#1a1a1a" stroke-width="0.5"/>
<circle cx="405.7" cy="338.3" r="1.85" fill="#a9a9a9" stroke="#1a1a1a" stroke-width="0.5"/>
<circle cx="405.7" cy="322.1" r="2" fill="#a9a9a9" stroke="#1a1a1a" stroke-width="0.6"/>
<line x1="401.4" y1="322.1" x2="410" y2="322.1" stroke="#333" stroke-width="0.6"/>
<circle cx="414.9" cy="386.4" r="1.85" fill="#3f6fbf" stroke="#1a1a1a" stroke-width="0.55"/>
<circle cx="412.8" cy="390.5" r="1.85" fill="#3f6fbf" stroke="#1a1a1a" stroke-width="0.55"/>
<circle cx="417" cy="390.5" r="1.85" fill="#3f6fbf" stroke="#1a1a1a" stroke-width="0.55"/>
<circle cx="420.7" cy="415.4" r="1.85" fill="#e8741c" stroke="#1a1a1a" stroke-width="0.55"/>
<circle cx="424.2" cy="415.4" r="1.85" fill="#e8741c" stroke="#1a1a1a" stroke-width="0.55"/>
<circle cx="427.7" cy="415.4" r="1.85" fill="#e8741c" stroke="#1a1a1a" stroke-width="0.55"/>
<line x1="433.65" y1="331.3" x2="433.65" y2="336.1" stroke="#333" stroke-width="0.6"/>
<rect x="429.3" y="336.1" width="8.7" height="6.4" fill="#a9a9a9" stroke="#333" stroke-width="0.6"/>
<circle cx="433.6" cy="331.3" r="1.85" fill="#a9a9a9" stroke="#1a1a1a" stroke-width="0.5"/>
<circle cx="432" cy="341" r="1.85" fill="#a9a9a9" stroke="#1a1a1a" stroke-width="0.5"/>
<circle cx="435.2" cy="341" r="1.85" fill="#a9a9a9" stroke="#1a1a1a" stroke-width="0.5"/>
<circle cx="442.7" cy="388.6" r="1.85" fill="#3f6fbf" stroke="#1a1a1a" stroke-width="0.55"/>
<circle cx="440.6" cy="392.7" r="1.85" fill="#3f6fbf" stroke="#1a1a1a" stroke-width="0.55"/>
<circle cx="444.8" cy="392.7" r="1.85" fill="#3f6fbf" stroke="#1a1a1a" stroke-width="0.55"/>
<circle cx="448.4" cy="415.4" r="1.85" fill="#e8741c" stroke="#1a1a1a" stroke-width="0.55"/>
<circle cx="451.9" cy="415.4" r="1.85" fill="#e8741c" stroke="#1a1a1a" stroke-width="0.55"/>
<circle cx="455.4" cy="415.4" r="1.85" fill="#e8741c" stroke="#1a1a1a" stroke-width="0.55"/>
<line x1="470.2" y1="309.2" x2="470.2" y2="323.1" stroke="#333" stroke-width="0.6"/>
<rect x="466.2" y="323.1" width="8" height="16.8" fill="#a9a9a9" stroke="#333" stroke-width="0.6"/>
<circle cx="470.2" cy="309.2" r="1.85" fill="#a9a9a9" stroke="#1a1a1a" stroke-width="0.5"/>
<circle cx="468.6" cy="338.9" r="1.85" fill="#a9a9a9" stroke="#1a1a1a" stroke-width="0.5"/>
<circle cx="471.8" cy="338.9" r="1.85" fill="#a9a9a9" stroke="#1a1a1a" stroke-width="0.5"/>
<circle cx="476.2" cy="343.2" r="1.85" fill="#3f6fbf" stroke="#1a1a1a" stroke-width="0.55"/>
<circle cx="479.7" cy="343.2" r="1.85" fill="#3f6fbf" stroke="#1a1a1a" stroke-width="0.55"/>
<circle cx="483.2" cy="343.2" r="1.85" fill="#3f6fbf" stroke="#1a1a1a" stroke-width="0.55"/>
<circle cx="485.3" cy="383.6" r="1.85" fill="#e8741c" stroke="#1a1a1a" stroke-width="0.55"/>
<circle cx="488.8" cy="383.6" r="1.85" fill="#e8741c" stroke="#1a1a1a" stroke-width="0.55"/>
<circle cx="492.3" cy="383.6" r="1.85" fill="#e8741c" stroke="#1a1a1a" stroke-width="0.55"/>
<line x1="497.8" y1="316.1" x2="497.8" y2="322.4" stroke="#333" stroke-width="0.6"/>
<rect x="493.4" y="322.4" width="8.8" height="7.7" fill="#a9a9a9" stroke="#333" stroke-width="0.6"/>
<circle cx="497.8" cy="316.1" r="1.85" fill="#a9a9a9" stroke="#1a1a1a" stroke-width="0.5"/>
<circle cx="497.8" cy="325.9" r="2" fill="#a9a9a9" stroke="#1a1a1a" stroke-width="0.6"/>
<circle cx="496.3" cy="327.8" r="1.85" fill="#a9a9a9" stroke="#1a1a1a" stroke-width="0.5"/>
<circle cx="499.3" cy="327.8" r="1.85" fill="#a9a9a9" stroke="#1a1a1a" stroke-width="0.5"/>
<circle cx="503.6" cy="339.9" r="1.85" fill="#3f6fbf" stroke="#1a1a1a" stroke-width="0.55"/>
<circle cx="507.1" cy="339.9" r="1.85" fill="#3f6fbf" stroke="#1a1a1a" stroke-width="0.55"/>
<circle cx="510.6" cy="339.9" r="1.85" fill="#3f6fbf" stroke="#1a1a1a" stroke-width="0.55"/>
<line x1="516.35" y1="365" x2="516.35" y2="374.5" stroke="#333" stroke-width="0.6"/>
<rect x="512" y="356.3" width="8.7" height="8.7" fill="#e8741c" stroke="#333" stroke-width="0.6"/>
<circle cx="516.35" cy="374.5" r="1.85" fill="#e8741c" stroke="#1a1a1a" stroke-width="0.5"/>
<circle cx="514.8" cy="357" r="1.85" fill="#e8741c" stroke="#1a1a1a" stroke-width="0.5"/>
<circle cx="517.9" cy="357" r="1.85" fill="#e8741c" stroke="#1a1a1a" stroke-width="0.5"/>
<line x1="525.55" y1="320.6" x2="525.55" y2="322.9" stroke="#333" stroke-width="0.6"/>
<line x1="525.55" y1="327.5" x2="525.55" y2="330.4" stroke="#333" stroke-width="0.6"/>
<rect x="521.3" y="322.9" width="8.5" height="4.6" fill="#a9a9a9" stroke="#333" stroke-width="0.6"/>
<circle cx="525.5" cy="320.6" r="1.85" fill="#a9a9a9" stroke="#1a1a1a" stroke-width="0.55"/>
<circle cx="525.5" cy="330.4" r="1.85" fill="#a9a9a9" stroke="#1a1a1a" stroke-width="0.55"/>
<circle cx="525.5" cy="325.2" r="2" fill="#a9a9a9" stroke="#1a1a1a" stroke-width="0.6"/>
<circle cx="534.7" cy="350.4" r="1.85" fill="#3f6fbf" stroke="#1a1a1a" stroke-width="0.55"/>
<circle cx="532.6" cy="354.5" r="1.85" fill="#3f6fbf" stroke="#1a1a1a" stroke-width="0.55"/>
<circle cx="536.8" cy="354.5" r="1.85" fill="#3f6fbf" stroke="#1a1a1a" stroke-width="0.55"/>
<circle cx="544.1" cy="402" r="1.85" fill="#e8741c" stroke="#1a1a1a" stroke-width="0.55"/>
<circle cx="542" cy="406.1" r="1.85" fill="#e8741c" stroke="#1a1a1a" stroke-width="0.55"/>
<circle cx="546.2" cy="406.1" r="1.85" fill="#e8741c" stroke="#1a1a1a" stroke-width="0.55"/>
<line x1="562.8" y1="318.6" x2="562.8" y2="324.9" stroke="#333" stroke-width="0.6"/>
<rect x="558.8" y="309.2" width="8" height="9.4" fill="#a9a9a9" stroke="#333" stroke-width="0.6"/>
<circle cx="562.8" cy="324.9" r="1.85" fill="#a9a9a9" stroke="#1a1a1a" stroke-width="0.5"/>
<circle cx="561.2" cy="310" r="1.85" fill="#a9a9a9" stroke="#1a1a1a" stroke-width="0.5"/>
<circle cx="564.4" cy="310" r="1.85" fill="#a9a9a9" stroke="#1a1a1a" stroke-width="0.5"/>
<circle cx="568.2" cy="338.9" r="1.85" fill="#3f6fbf" stroke="#1a1a1a" stroke-width="0.55"/>
<circle cx="571.7" cy="338.9" r="1.85" fill="#3f6fbf" stroke="#1a1a1a" stroke-width="0.55"/>
<circle cx="575.2" cy="338.9" r="1.85" fill="#3f6fbf" stroke="#1a1a1a" stroke-width="0.55"/>
<line x1="580.8" y1="373.8" x2="580.8" y2="381.5" stroke="#333" stroke-width="0.6"/>
<rect x="576.6" y="381.5" width="8.4" height="9.8" fill="#e8741c" stroke="#333" stroke-width="0.6"/>
<circle cx="580.8" cy="373.8" r="1.85" fill="#e8741c" stroke="#1a1a1a" stroke-width="0.5"/>
<circle cx="579.2" cy="389.6" r="1.85" fill="#e8741c" stroke="#1a1a1a" stroke-width="0.5"/>
<circle cx="582.4" cy="389.6" r="1.85" fill="#e8741c" stroke="#1a1a1a" stroke-width="0.5"/>
<circle cx="586.4" cy="321.4" r="1.85" fill="#a9a9a9" stroke="#1a1a1a" stroke-width="0.55"/>
<circle cx="589.9" cy="321.4" r="1.85" fill="#a9a9a9" stroke="#1a1a1a" stroke-width="0.55"/>
<circle cx="593.4" cy="321.4" r="1.85" fill="#a9a9a9" stroke="#1a1a1a" stroke-width="0.55"/>
<line x1="599.15" y1="328.4" x2="599.15" y2="331.2" stroke="#333" stroke-width="0.6"/>
<line x1="599.15" y1="338.9" x2="599.15" y2="344.1" stroke="#333" stroke-width="0.6"/>
<rect x="594.8" y="331.2" width="8.7" height="7.7" fill="#3f6fbf" stroke="#333" stroke-width="0.6"/>
<circle cx="599.15" cy="328.4" r="1.85" fill="#3f6fbf" stroke="#1a1a1a" stroke-width="0.5"/>
<circle cx="599.15" cy="344.1" r="1.85" fill="#3f6fbf" stroke="#1a1a1a" stroke-width="0.5"/>
<circle cx="599.15" cy="334.3" r="2" fill="#3f6fbf" stroke="#1a1a1a" stroke-width="0.6"/>
<circle cx="604.9" cy="386.7" r="1.85" fill="#e8741c" stroke="#1a1a1a" stroke-width="0.55"/>
<circle cx="608.4" cy="386.7" r="1.85" fill="#e8741c" stroke="#1a1a1a" stroke-width="0.55"/>
<circle cx="611.9" cy="386.7" r="1.85" fill="#e8741c" stroke="#1a1a1a" stroke-width="0.55"/>
<circle cx="613.9" cy="317.2" r="1.85" fill="#a9a9a9" stroke="#1a1a1a" stroke-width="0.55"/>
<circle cx="617.4" cy="317.2" r="1.85" fill="#a9a9a9" stroke="#1a1a1a" stroke-width="0.55"/>
<circle cx="620.9" cy="317.2" r="1.85" fill="#a9a9a9" stroke="#1a1a1a" stroke-width="0.55"/>
<circle cx="626.9" cy="342" r="1.85" fill="#3f6fbf" stroke="#1a1a1a" stroke-width="0.55"/>
<circle cx="624.8" cy="346.1" r="1.85" fill="#3f6fbf" stroke="#1a1a1a" stroke-width="0.55"/>
<circle cx="629" cy="346.1" r="1.85" fill="#3f6fbf" stroke="#1a1a1a" stroke-width="0.55"/>
<circle cx="632.9" cy="396.5" r="1.85" fill="#e8741c" stroke="#1a1a1a" stroke-width="0.55"/>
<circle cx="636.4" cy="396.5" r="1.85" fill="#e8741c" stroke="#1a1a1a" stroke-width="0.55"/>
<circle cx="639.9" cy="396.5" r="1.85" fill="#e8741c" stroke="#1a1a1a" stroke-width="0.55"/>
<rect x="370.5" y="288.6" width="88.6" height="127.2" fill="none" stroke="#111" stroke-width="1.3"/>
<rect x="462.7" y="288.6" width="88.6" height="127.2" fill="none" stroke="#111" stroke-width="1.3"/>
<rect x="554.9" y="288.6" width="88.6" height="127.2" fill="none" stroke="#111" stroke-width="1.3"/>
<text x="654.7" y="335.6" font-size="9.4" font-weight="bold">Days</text>
<rect x="654.4" y="344.1" width="8.8" height="5.6" fill="#a9a9a9" stroke="#444" stroke-width="0.5"/>
<line x1="658.8" y1="342.7" x2="658.8" y2="351.1" stroke="#222" stroke-width="0.5"/>
<line x1="654.4" y1="346.9" x2="663.2" y2="346.9" stroke="#222" stroke-width="0.6"/>
<circle cx="658.8" cy="346.9" r="1.9" fill="#a9a9a9" stroke="#222" stroke-width="0.5"/>
<text x="665.8" y="350.1" font-size="9.6">D0</text>
<rect x="654.4" y="356.2" width="8.8" height="5.6" fill="#3f6fbf" stroke="#444" stroke-width="0.5"/>
<line x1="658.8" y1="354.8" x2="658.8" y2="363.2" stroke="#222" stroke-width="0.5"/>
<line x1="654.4" y1="359" x2="663.2" y2="359" stroke="#222" stroke-width="0.6"/>
<circle cx="658.8" cy="359" r="1.9" fill="#3f6fbf" stroke="#222" stroke-width="0.5"/>
<text x="665.8" y="362.2" font-size="9.6">D5</text>
<rect x="654.4" y="368.3" width="8.8" height="5.6" fill="#e8741c" stroke="#444" stroke-width="0.5"/>
<line x1="658.8" y1="366.9" x2="658.8" y2="375.3" stroke="#222" stroke-width="0.5"/>
<line x1="654.4" y1="371.1" x2="663.2" y2="371.1" stroke="#222" stroke-width="0.6"/>
<circle cx="658.8" cy="371.1" r="1.9" fill="#e8741c" stroke="#222" stroke-width="0.5"/>
<text x="665.8" y="374.3" font-size="9.6">D10</text>
</svg></body></html>
